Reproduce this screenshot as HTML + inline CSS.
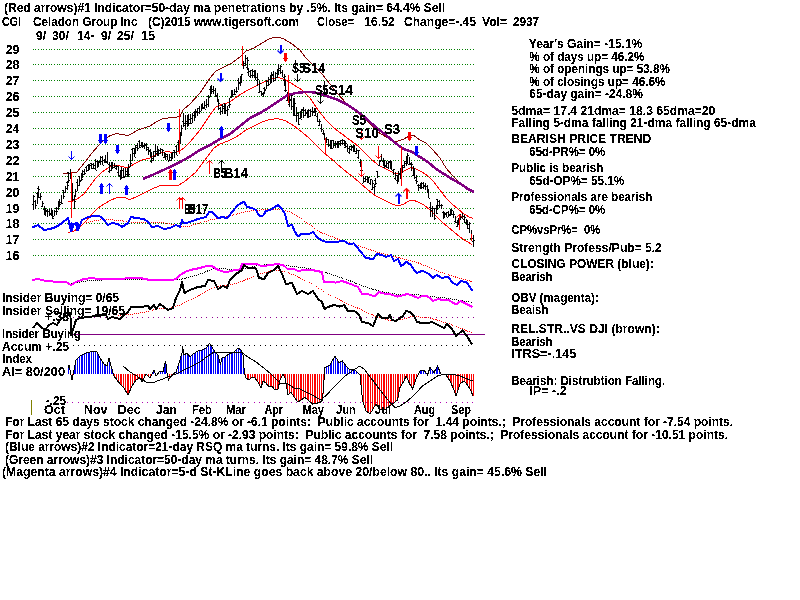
<!DOCTYPE html>
<html><head><meta charset="utf-8"><title>CGI</title>
<style>
html,body{margin:0;padding:0;background:#fff;}
body{width:800px;height:600px;overflow:hidden;font-family:"Liberation Sans",sans-serif;}
svg{display:block}
text{font-family:"Liberation Sans",sans-serif;font-weight:bold;fill:#000;white-space:pre;}
</style></head><body>
<svg width="800" height="600" viewBox="0 0 800 600">
<rect width="800" height="600" fill="#fff"/>
<path d="M33,49.5h1M35,49.5h1M38,49.5h1M41,49.5h1M43,49.5h1M46,49.5h1M49,49.5h1M51,49.5h1M54,49.5h1M57,49.5h1M59,49.5h1M62,49.5h1M65,49.5h1M67,49.5h1M70,49.5h1M73,49.5h1M75,49.5h1M78,49.5h1M81,49.5h1M83,49.5h1M86,49.5h1M89,49.5h1M91,49.5h1M94,49.5h1M97,49.5h1M99,49.5h1M102,49.5h1M105,49.5h1M107,49.5h1M110,49.5h1M113,49.5h1M115,49.5h1M118,49.5h1M121,49.5h1M123,49.5h1M126,49.5h1M129,49.5h1M131,49.5h1M134,49.5h1M137,49.5h1M139,49.5h1M142,49.5h1M145,49.5h1M147,49.5h1M150,49.5h1M153,49.5h1M155,49.5h1M158,49.5h1M161,49.5h1M163,49.5h1M166,49.5h1M169,49.5h1M171,49.5h1M174,49.5h1M177,49.5h1M179,49.5h1M182,49.5h1M185,49.5h1M187,49.5h1M190,49.5h1M193,49.5h1M195,49.5h1M198,49.5h1M201,49.5h1M203,49.5h1M206,49.5h1M209,49.5h1M211,49.5h1M214,49.5h1M217,49.5h1M219,49.5h1M222,49.5h1M225,49.5h1M227,49.5h1M230,49.5h1M233,49.5h1M235,49.5h1M238,49.5h1M241,49.5h1M243,49.5h1M246,49.5h1M249,49.5h1M251,49.5h1M254,49.5h1M257,49.5h1M259,49.5h1M262,49.5h1M265,49.5h1M267,49.5h1M270,49.5h1M273,49.5h1M275,49.5h1M278,49.5h1M281,49.5h1M283,49.5h1M286,49.5h1M289,49.5h1M291,49.5h1M294,49.5h1M297,49.5h1M299,49.5h1M302,49.5h1M305,49.5h1M307,49.5h1M310,49.5h1M313,49.5h1M315,49.5h1M318,49.5h1M321,49.5h1M323,49.5h1M326,49.5h1M329,49.5h1M331,49.5h1M334,49.5h1M337,49.5h1M339,49.5h1M342,49.5h1M345,49.5h1M347,49.5h1M350,49.5h1M353,49.5h1M355,49.5h1M358,49.5h1M361,49.5h1M363,49.5h1M366,49.5h1M369,49.5h1M371,49.5h1M374,49.5h1M377,49.5h1M379,49.5h1M382,49.5h1M385,49.5h1M387,49.5h1M390,49.5h1M393,49.5h1M395,49.5h1M398,49.5h1M401,49.5h1M403,49.5h1M406,49.5h1M409,49.5h1M411,49.5h1M414,49.5h1M417,49.5h1M419,49.5h1M422,49.5h1M425,49.5h1M427,49.5h1M430,49.5h1M433,49.5h1M435,49.5h1M438,49.5h1M441,49.5h1M443,49.5h1M446,49.5h1M449,49.5h1M451,49.5h1M454,49.5h1M457,49.5h1M459,49.5h1M462,49.5h1M465,49.5h1M467,49.5h1M470,49.5h1M473,49.5h1" stroke="#008000" stroke-width="1" fill="none" shape-rendering="crispEdges"/>
<path d="M33,64.5h1M35,64.5h1M38,64.5h1M41,64.5h1M43,64.5h1M46,64.5h1M49,64.5h1M51,64.5h1M54,64.5h1M57,64.5h1M59,64.5h1M62,64.5h1M65,64.5h1M67,64.5h1M70,64.5h1M73,64.5h1M75,64.5h1M78,64.5h1M81,64.5h1M83,64.5h1M86,64.5h1M89,64.5h1M91,64.5h1M94,64.5h1M97,64.5h1M99,64.5h1M102,64.5h1M105,64.5h1M107,64.5h1M110,64.5h1M113,64.5h1M115,64.5h1M118,64.5h1M121,64.5h1M123,64.5h1M126,64.5h1M129,64.5h1M131,64.5h1M134,64.5h1M137,64.5h1M139,64.5h1M142,64.5h1M145,64.5h1M147,64.5h1M150,64.5h1M153,64.5h1M155,64.5h1M158,64.5h1M161,64.5h1M163,64.5h1M166,64.5h1M169,64.5h1M171,64.5h1M174,64.5h1M177,64.5h1M179,64.5h1M182,64.5h1M185,64.5h1M187,64.5h1M190,64.5h1M193,64.5h1M195,64.5h1M198,64.5h1M201,64.5h1M203,64.5h1M206,64.5h1M209,64.5h1M211,64.5h1M214,64.5h1M217,64.5h1M219,64.5h1M222,64.5h1M225,64.5h1M227,64.5h1M230,64.5h1M233,64.5h1M235,64.5h1M238,64.5h1M241,64.5h1M243,64.5h1M246,64.5h1M249,64.5h1M251,64.5h1M254,64.5h1M257,64.5h1M259,64.5h1M262,64.5h1M265,64.5h1M267,64.5h1M270,64.5h1M273,64.5h1M275,64.5h1M278,64.5h1M281,64.5h1M283,64.5h1M286,64.5h1M289,64.5h1M291,64.5h1M294,64.5h1M297,64.5h1M299,64.5h1M302,64.5h1M305,64.5h1M307,64.5h1M310,64.5h1M313,64.5h1M315,64.5h1M318,64.5h1M321,64.5h1M323,64.5h1M326,64.5h1M329,64.5h1M331,64.5h1M334,64.5h1M337,64.5h1M339,64.5h1M342,64.5h1M345,64.5h1M347,64.5h1M350,64.5h1M353,64.5h1M355,64.5h1M358,64.5h1M361,64.5h1M363,64.5h1M366,64.5h1M369,64.5h1M371,64.5h1M374,64.5h1M377,64.5h1M379,64.5h1M382,64.5h1M385,64.5h1M387,64.5h1M390,64.5h1M393,64.5h1M395,64.5h1M398,64.5h1M401,64.5h1M403,64.5h1M406,64.5h1M409,64.5h1M411,64.5h1M414,64.5h1M417,64.5h1M419,64.5h1M422,64.5h1M425,64.5h1M427,64.5h1M430,64.5h1M433,64.5h1M435,64.5h1M438,64.5h1M441,64.5h1M443,64.5h1M446,64.5h1M449,64.5h1M451,64.5h1M454,64.5h1M457,64.5h1M459,64.5h1M462,64.5h1M465,64.5h1M467,64.5h1M470,64.5h1M473,64.5h1" stroke="#008000" stroke-width="1" fill="none" shape-rendering="crispEdges"/>
<path d="M33,80.5h1M35,80.5h1M38,80.5h1M41,80.5h1M43,80.5h1M46,80.5h1M49,80.5h1M51,80.5h1M54,80.5h1M57,80.5h1M59,80.5h1M62,80.5h1M65,80.5h1M67,80.5h1M70,80.5h1M73,80.5h1M75,80.5h1M78,80.5h1M81,80.5h1M83,80.5h1M86,80.5h1M89,80.5h1M91,80.5h1M94,80.5h1M97,80.5h1M99,80.5h1M102,80.5h1M105,80.5h1M107,80.5h1M110,80.5h1M113,80.5h1M115,80.5h1M118,80.5h1M121,80.5h1M123,80.5h1M126,80.5h1M129,80.5h1M131,80.5h1M134,80.5h1M137,80.5h1M139,80.5h1M142,80.5h1M145,80.5h1M147,80.5h1M150,80.5h1M153,80.5h1M155,80.5h1M158,80.5h1M161,80.5h1M163,80.5h1M166,80.5h1M169,80.5h1M171,80.5h1M174,80.5h1M177,80.5h1M179,80.5h1M182,80.5h1M185,80.5h1M187,80.5h1M190,80.5h1M193,80.5h1M195,80.5h1M198,80.5h1M201,80.5h1M203,80.5h1M206,80.5h1M209,80.5h1M211,80.5h1M214,80.5h1M217,80.5h1M219,80.5h1M222,80.5h1M225,80.5h1M227,80.5h1M230,80.5h1M233,80.5h1M235,80.5h1M238,80.5h1M241,80.5h1M243,80.5h1M246,80.5h1M249,80.5h1M251,80.5h1M254,80.5h1M257,80.5h1M259,80.5h1M262,80.5h1M265,80.5h1M267,80.5h1M270,80.5h1M273,80.5h1M275,80.5h1M278,80.5h1M281,80.5h1M283,80.5h1M286,80.5h1M289,80.5h1M291,80.5h1M294,80.5h1M297,80.5h1M299,80.5h1M302,80.5h1M305,80.5h1M307,80.5h1M310,80.5h1M313,80.5h1M315,80.5h1M318,80.5h1M321,80.5h1M323,80.5h1M326,80.5h1M329,80.5h1M331,80.5h1M334,80.5h1M337,80.5h1M339,80.5h1M342,80.5h1M345,80.5h1M347,80.5h1M350,80.5h1M353,80.5h1M355,80.5h1M358,80.5h1M361,80.5h1M363,80.5h1M366,80.5h1M369,80.5h1M371,80.5h1M374,80.5h1M377,80.5h1M379,80.5h1M382,80.5h1M385,80.5h1M387,80.5h1M390,80.5h1M393,80.5h1M395,80.5h1M398,80.5h1M401,80.5h1M403,80.5h1M406,80.5h1M409,80.5h1M411,80.5h1M414,80.5h1M417,80.5h1M419,80.5h1M422,80.5h1M425,80.5h1M427,80.5h1M430,80.5h1M433,80.5h1M435,80.5h1M438,80.5h1M441,80.5h1M443,80.5h1M446,80.5h1M449,80.5h1M451,80.5h1M454,80.5h1M457,80.5h1M459,80.5h1M462,80.5h1M465,80.5h1M467,80.5h1M470,80.5h1M473,80.5h1" stroke="#008000" stroke-width="1" fill="none" shape-rendering="crispEdges"/>
<path d="M33,96.5h1M35,96.5h1M38,96.5h1M41,96.5h1M43,96.5h1M46,96.5h1M49,96.5h1M51,96.5h1M54,96.5h1M57,96.5h1M59,96.5h1M62,96.5h1M65,96.5h1M67,96.5h1M70,96.5h1M73,96.5h1M75,96.5h1M78,96.5h1M81,96.5h1M83,96.5h1M86,96.5h1M89,96.5h1M91,96.5h1M94,96.5h1M97,96.5h1M99,96.5h1M102,96.5h1M105,96.5h1M107,96.5h1M110,96.5h1M113,96.5h1M115,96.5h1M118,96.5h1M121,96.5h1M123,96.5h1M126,96.5h1M129,96.5h1M131,96.5h1M134,96.5h1M137,96.5h1M139,96.5h1M142,96.5h1M145,96.5h1M147,96.5h1M150,96.5h1M153,96.5h1M155,96.5h1M158,96.5h1M161,96.5h1M163,96.5h1M166,96.5h1M169,96.5h1M171,96.5h1M174,96.5h1M177,96.5h1M179,96.5h1M182,96.5h1M185,96.5h1M187,96.5h1M190,96.5h1M193,96.5h1M195,96.5h1M198,96.5h1M201,96.5h1M203,96.5h1M206,96.5h1M209,96.5h1M211,96.5h1M214,96.5h1M217,96.5h1M219,96.5h1M222,96.5h1M225,96.5h1M227,96.5h1M230,96.5h1M233,96.5h1M235,96.5h1M238,96.5h1M241,96.5h1M243,96.5h1M246,96.5h1M249,96.5h1M251,96.5h1M254,96.5h1M257,96.5h1M259,96.5h1M262,96.5h1M265,96.5h1M267,96.5h1M270,96.5h1M273,96.5h1M275,96.5h1M278,96.5h1M281,96.5h1M283,96.5h1M286,96.5h1M289,96.5h1M291,96.5h1M294,96.5h1M297,96.5h1M299,96.5h1M302,96.5h1M305,96.5h1M307,96.5h1M310,96.5h1M313,96.5h1M315,96.5h1M318,96.5h1M321,96.5h1M323,96.5h1M326,96.5h1M329,96.5h1M331,96.5h1M334,96.5h1M337,96.5h1M339,96.5h1M342,96.5h1M345,96.5h1M347,96.5h1M350,96.5h1M353,96.5h1M355,96.5h1M358,96.5h1M361,96.5h1M363,96.5h1M366,96.5h1M369,96.5h1M371,96.5h1M374,96.5h1M377,96.5h1M379,96.5h1M382,96.5h1M385,96.5h1M387,96.5h1M390,96.5h1M393,96.5h1M395,96.5h1M398,96.5h1M401,96.5h1M403,96.5h1M406,96.5h1M409,96.5h1M411,96.5h1M414,96.5h1M417,96.5h1M419,96.5h1M422,96.5h1M425,96.5h1M427,96.5h1M430,96.5h1M433,96.5h1M435,96.5h1M438,96.5h1M441,96.5h1M443,96.5h1M446,96.5h1M449,96.5h1M451,96.5h1M454,96.5h1M457,96.5h1M459,96.5h1M462,96.5h1M465,96.5h1M467,96.5h1M470,96.5h1M473,96.5h1" stroke="#008000" stroke-width="1" fill="none" shape-rendering="crispEdges"/>
<path d="M33,112.5h1M35,112.5h1M38,112.5h1M41,112.5h1M43,112.5h1M46,112.5h1M49,112.5h1M51,112.5h1M54,112.5h1M57,112.5h1M59,112.5h1M62,112.5h1M65,112.5h1M67,112.5h1M70,112.5h1M73,112.5h1M75,112.5h1M78,112.5h1M81,112.5h1M83,112.5h1M86,112.5h1M89,112.5h1M91,112.5h1M94,112.5h1M97,112.5h1M99,112.5h1M102,112.5h1M105,112.5h1M107,112.5h1M110,112.5h1M113,112.5h1M115,112.5h1M118,112.5h1M121,112.5h1M123,112.5h1M126,112.5h1M129,112.5h1M131,112.5h1M134,112.5h1M137,112.5h1M139,112.5h1M142,112.5h1M145,112.5h1M147,112.5h1M150,112.5h1M153,112.5h1M155,112.5h1M158,112.5h1M161,112.5h1M163,112.5h1M166,112.5h1M169,112.5h1M171,112.5h1M174,112.5h1M177,112.5h1M179,112.5h1M182,112.5h1M185,112.5h1M187,112.5h1M190,112.5h1M193,112.5h1M195,112.5h1M198,112.5h1M201,112.5h1M203,112.5h1M206,112.5h1M209,112.5h1M211,112.5h1M214,112.5h1M217,112.5h1M219,112.5h1M222,112.5h1M225,112.5h1M227,112.5h1M230,112.5h1M233,112.5h1M235,112.5h1M238,112.5h1M241,112.5h1M243,112.5h1M246,112.5h1M249,112.5h1M251,112.5h1M254,112.5h1M257,112.5h1M259,112.5h1M262,112.5h1M265,112.5h1M267,112.5h1M270,112.5h1M273,112.5h1M275,112.5h1M278,112.5h1M281,112.5h1M283,112.5h1M286,112.5h1M289,112.5h1M291,112.5h1M294,112.5h1M297,112.5h1M299,112.5h1M302,112.5h1M305,112.5h1M307,112.5h1M310,112.5h1M313,112.5h1M315,112.5h1M318,112.5h1M321,112.5h1M323,112.5h1M326,112.5h1M329,112.5h1M331,112.5h1M334,112.5h1M337,112.5h1M339,112.5h1M342,112.5h1M345,112.5h1M347,112.5h1M350,112.5h1M353,112.5h1M355,112.5h1M358,112.5h1M361,112.5h1M363,112.5h1M366,112.5h1M369,112.5h1M371,112.5h1M374,112.5h1M377,112.5h1M379,112.5h1M382,112.5h1M385,112.5h1M387,112.5h1M390,112.5h1M393,112.5h1M395,112.5h1M398,112.5h1M401,112.5h1M403,112.5h1M406,112.5h1M409,112.5h1M411,112.5h1M414,112.5h1M417,112.5h1M419,112.5h1M422,112.5h1M425,112.5h1M427,112.5h1M430,112.5h1M433,112.5h1M435,112.5h1M438,112.5h1M441,112.5h1M443,112.5h1M446,112.5h1M449,112.5h1M451,112.5h1M454,112.5h1M457,112.5h1M459,112.5h1M462,112.5h1M465,112.5h1M467,112.5h1M470,112.5h1M473,112.5h1" stroke="#008000" stroke-width="1" fill="none" shape-rendering="crispEdges"/>
<path d="M33,128.5h1M35,128.5h1M38,128.5h1M41,128.5h1M43,128.5h1M46,128.5h1M49,128.5h1M51,128.5h1M54,128.5h1M57,128.5h1M59,128.5h1M62,128.5h1M65,128.5h1M67,128.5h1M70,128.5h1M73,128.5h1M75,128.5h1M78,128.5h1M81,128.5h1M83,128.5h1M86,128.5h1M89,128.5h1M91,128.5h1M94,128.5h1M97,128.5h1M99,128.5h1M102,128.5h1M105,128.5h1M107,128.5h1M110,128.5h1M113,128.5h1M115,128.5h1M118,128.5h1M121,128.5h1M123,128.5h1M126,128.5h1M129,128.5h1M131,128.5h1M134,128.5h1M137,128.5h1M139,128.5h1M142,128.5h1M145,128.5h1M147,128.5h1M150,128.5h1M153,128.5h1M155,128.5h1M158,128.5h1M161,128.5h1M163,128.5h1M166,128.5h1M169,128.5h1M171,128.5h1M174,128.5h1M177,128.5h1M179,128.5h1M182,128.5h1M185,128.5h1M187,128.5h1M190,128.5h1M193,128.5h1M195,128.5h1M198,128.5h1M201,128.5h1M203,128.5h1M206,128.5h1M209,128.5h1M211,128.5h1M214,128.5h1M217,128.5h1M219,128.5h1M222,128.5h1M225,128.5h1M227,128.5h1M230,128.5h1M233,128.5h1M235,128.5h1M238,128.5h1M241,128.5h1M243,128.5h1M246,128.5h1M249,128.5h1M251,128.5h1M254,128.5h1M257,128.5h1M259,128.5h1M262,128.5h1M265,128.5h1M267,128.5h1M270,128.5h1M273,128.5h1M275,128.5h1M278,128.5h1M281,128.5h1M283,128.5h1M286,128.5h1M289,128.5h1M291,128.5h1M294,128.5h1M297,128.5h1M299,128.5h1M302,128.5h1M305,128.5h1M307,128.5h1M310,128.5h1M313,128.5h1M315,128.5h1M318,128.5h1M321,128.5h1M323,128.5h1M326,128.5h1M329,128.5h1M331,128.5h1M334,128.5h1M337,128.5h1M339,128.5h1M342,128.5h1M345,128.5h1M347,128.5h1M350,128.5h1M353,128.5h1M355,128.5h1M358,128.5h1M361,128.5h1M363,128.5h1M366,128.5h1M369,128.5h1M371,128.5h1M374,128.5h1M377,128.5h1M379,128.5h1M382,128.5h1M385,128.5h1M387,128.5h1M390,128.5h1M393,128.5h1M395,128.5h1M398,128.5h1M401,128.5h1M403,128.5h1M406,128.5h1M409,128.5h1M411,128.5h1M414,128.5h1M417,128.5h1M419,128.5h1M422,128.5h1M425,128.5h1M427,128.5h1M430,128.5h1M433,128.5h1M435,128.5h1M438,128.5h1M441,128.5h1M443,128.5h1M446,128.5h1M449,128.5h1M451,128.5h1M454,128.5h1M457,128.5h1M459,128.5h1M462,128.5h1M465,128.5h1M467,128.5h1M470,128.5h1M473,128.5h1" stroke="#008000" stroke-width="1" fill="none" shape-rendering="crispEdges"/>
<path d="M33,144.5h1M35,144.5h1M38,144.5h1M41,144.5h1M43,144.5h1M46,144.5h1M49,144.5h1M51,144.5h1M54,144.5h1M57,144.5h1M59,144.5h1M62,144.5h1M65,144.5h1M67,144.5h1M70,144.5h1M73,144.5h1M75,144.5h1M78,144.5h1M81,144.5h1M83,144.5h1M86,144.5h1M89,144.5h1M91,144.5h1M94,144.5h1M97,144.5h1M99,144.5h1M102,144.5h1M105,144.5h1M107,144.5h1M110,144.5h1M113,144.5h1M115,144.5h1M118,144.5h1M121,144.5h1M123,144.5h1M126,144.5h1M129,144.5h1M131,144.5h1M134,144.5h1M137,144.5h1M139,144.5h1M142,144.5h1M145,144.5h1M147,144.5h1M150,144.5h1M153,144.5h1M155,144.5h1M158,144.5h1M161,144.5h1M163,144.5h1M166,144.5h1M169,144.5h1M171,144.5h1M174,144.5h1M177,144.5h1M179,144.5h1M182,144.5h1M185,144.5h1M187,144.5h1M190,144.5h1M193,144.5h1M195,144.5h1M198,144.5h1M201,144.5h1M203,144.5h1M206,144.5h1M209,144.5h1M211,144.5h1M214,144.5h1M217,144.5h1M219,144.5h1M222,144.5h1M225,144.5h1M227,144.5h1M230,144.5h1M233,144.5h1M235,144.5h1M238,144.5h1M241,144.5h1M243,144.5h1M246,144.5h1M249,144.5h1M251,144.5h1M254,144.5h1M257,144.5h1M259,144.5h1M262,144.5h1M265,144.5h1M267,144.5h1M270,144.5h1M273,144.5h1M275,144.5h1M278,144.5h1M281,144.5h1M283,144.5h1M286,144.5h1M289,144.5h1M291,144.5h1M294,144.5h1M297,144.5h1M299,144.5h1M302,144.5h1M305,144.5h1M307,144.5h1M310,144.5h1M313,144.5h1M315,144.5h1M318,144.5h1M321,144.5h1M323,144.5h1M326,144.5h1M329,144.5h1M331,144.5h1M334,144.5h1M337,144.5h1M339,144.5h1M342,144.5h1M345,144.5h1M347,144.5h1M350,144.5h1M353,144.5h1M355,144.5h1M358,144.5h1M361,144.5h1M363,144.5h1M366,144.5h1M369,144.5h1M371,144.5h1M374,144.5h1M377,144.5h1M379,144.5h1M382,144.5h1M385,144.5h1M387,144.5h1M390,144.5h1M393,144.5h1M395,144.5h1M398,144.5h1M401,144.5h1M403,144.5h1M406,144.5h1M409,144.5h1M411,144.5h1M414,144.5h1M417,144.5h1M419,144.5h1M422,144.5h1M425,144.5h1M427,144.5h1M430,144.5h1M433,144.5h1M435,144.5h1M438,144.5h1M441,144.5h1M443,144.5h1M446,144.5h1M449,144.5h1M451,144.5h1M454,144.5h1M457,144.5h1M459,144.5h1M462,144.5h1M465,144.5h1M467,144.5h1M470,144.5h1M473,144.5h1" stroke="#008000" stroke-width="1" fill="none" shape-rendering="crispEdges"/>
<path d="M33,160.5h1M35,160.5h1M38,160.5h1M41,160.5h1M43,160.5h1M46,160.5h1M49,160.5h1M51,160.5h1M54,160.5h1M57,160.5h1M59,160.5h1M62,160.5h1M65,160.5h1M67,160.5h1M70,160.5h1M73,160.5h1M75,160.5h1M78,160.5h1M81,160.5h1M83,160.5h1M86,160.5h1M89,160.5h1M91,160.5h1M94,160.5h1M97,160.5h1M99,160.5h1M102,160.5h1M105,160.5h1M107,160.5h1M110,160.5h1M113,160.5h1M115,160.5h1M118,160.5h1M121,160.5h1M123,160.5h1M126,160.5h1M129,160.5h1M131,160.5h1M134,160.5h1M137,160.5h1M139,160.5h1M142,160.5h1M145,160.5h1M147,160.5h1M150,160.5h1M153,160.5h1M155,160.5h1M158,160.5h1M161,160.5h1M163,160.5h1M166,160.5h1M169,160.5h1M171,160.5h1M174,160.5h1M177,160.5h1M179,160.5h1M182,160.5h1M185,160.5h1M187,160.5h1M190,160.5h1M193,160.5h1M195,160.5h1M198,160.5h1M201,160.5h1M203,160.5h1M206,160.5h1M209,160.5h1M211,160.5h1M214,160.5h1M217,160.5h1M219,160.5h1M222,160.5h1M225,160.5h1M227,160.5h1M230,160.5h1M233,160.5h1M235,160.5h1M238,160.5h1M241,160.5h1M243,160.5h1M246,160.5h1M249,160.5h1M251,160.5h1M254,160.5h1M257,160.5h1M259,160.5h1M262,160.5h1M265,160.5h1M267,160.5h1M270,160.5h1M273,160.5h1M275,160.5h1M278,160.5h1M281,160.5h1M283,160.5h1M286,160.5h1M289,160.5h1M291,160.5h1M294,160.5h1M297,160.5h1M299,160.5h1M302,160.5h1M305,160.5h1M307,160.5h1M310,160.5h1M313,160.5h1M315,160.5h1M318,160.5h1M321,160.5h1M323,160.5h1M326,160.5h1M329,160.5h1M331,160.5h1M334,160.5h1M337,160.5h1M339,160.5h1M342,160.5h1M345,160.5h1M347,160.5h1M350,160.5h1M353,160.5h1M355,160.5h1M358,160.5h1M361,160.5h1M363,160.5h1M366,160.5h1M369,160.5h1M371,160.5h1M374,160.5h1M377,160.5h1M379,160.5h1M382,160.5h1M385,160.5h1M387,160.5h1M390,160.5h1M393,160.5h1M395,160.5h1M398,160.5h1M401,160.5h1M403,160.5h1M406,160.5h1M409,160.5h1M411,160.5h1M414,160.5h1M417,160.5h1M419,160.5h1M422,160.5h1M425,160.5h1M427,160.5h1M430,160.5h1M433,160.5h1M435,160.5h1M438,160.5h1M441,160.5h1M443,160.5h1M446,160.5h1M449,160.5h1M451,160.5h1M454,160.5h1M457,160.5h1M459,160.5h1M462,160.5h1M465,160.5h1M467,160.5h1M470,160.5h1M473,160.5h1" stroke="#008000" stroke-width="1" fill="none" shape-rendering="crispEdges"/>
<path d="M33,176.5h1M35,176.5h1M38,176.5h1M41,176.5h1M43,176.5h1M46,176.5h1M49,176.5h1M51,176.5h1M54,176.5h1M57,176.5h1M59,176.5h1M62,176.5h1M65,176.5h1M67,176.5h1M70,176.5h1M73,176.5h1M75,176.5h1M78,176.5h1M81,176.5h1M83,176.5h1M86,176.5h1M89,176.5h1M91,176.5h1M94,176.5h1M97,176.5h1M99,176.5h1M102,176.5h1M105,176.5h1M107,176.5h1M110,176.5h1M113,176.5h1M115,176.5h1M118,176.5h1M121,176.5h1M123,176.5h1M126,176.5h1M129,176.5h1M131,176.5h1M134,176.5h1M137,176.5h1M139,176.5h1M142,176.5h1M145,176.5h1M147,176.5h1M150,176.5h1M153,176.5h1M155,176.5h1M158,176.5h1M161,176.5h1M163,176.5h1M166,176.5h1M169,176.5h1M171,176.5h1M174,176.5h1M177,176.5h1M179,176.5h1M182,176.5h1M185,176.5h1M187,176.5h1M190,176.5h1M193,176.5h1M195,176.5h1M198,176.5h1M201,176.5h1M203,176.5h1M206,176.5h1M209,176.5h1M211,176.5h1M214,176.5h1M217,176.5h1M219,176.5h1M222,176.5h1M225,176.5h1M227,176.5h1M230,176.5h1M233,176.5h1M235,176.5h1M238,176.5h1M241,176.5h1M243,176.5h1M246,176.5h1M249,176.5h1M251,176.5h1M254,176.5h1M257,176.5h1M259,176.5h1M262,176.5h1M265,176.5h1M267,176.5h1M270,176.5h1M273,176.5h1M275,176.5h1M278,176.5h1M281,176.5h1M283,176.5h1M286,176.5h1M289,176.5h1M291,176.5h1M294,176.5h1M297,176.5h1M299,176.5h1M302,176.5h1M305,176.5h1M307,176.5h1M310,176.5h1M313,176.5h1M315,176.5h1M318,176.5h1M321,176.5h1M323,176.5h1M326,176.5h1M329,176.5h1M331,176.5h1M334,176.5h1M337,176.5h1M339,176.5h1M342,176.5h1M345,176.5h1M347,176.5h1M350,176.5h1M353,176.5h1M355,176.5h1M358,176.5h1M361,176.5h1M363,176.5h1M366,176.5h1M369,176.5h1M371,176.5h1M374,176.5h1M377,176.5h1M379,176.5h1M382,176.5h1M385,176.5h1M387,176.5h1M390,176.5h1M393,176.5h1M395,176.5h1M398,176.5h1M401,176.5h1M403,176.5h1M406,176.5h1M409,176.5h1M411,176.5h1M414,176.5h1M417,176.5h1M419,176.5h1M422,176.5h1M425,176.5h1M427,176.5h1M430,176.5h1M433,176.5h1M435,176.5h1M438,176.5h1M441,176.5h1M443,176.5h1M446,176.5h1M449,176.5h1M451,176.5h1M454,176.5h1M457,176.5h1M459,176.5h1M462,176.5h1M465,176.5h1M467,176.5h1M470,176.5h1M473,176.5h1" stroke="#008000" stroke-width="1" fill="none" shape-rendering="crispEdges"/>
<path d="M33,192.5h1M35,192.5h1M38,192.5h1M41,192.5h1M43,192.5h1M46,192.5h1M49,192.5h1M51,192.5h1M54,192.5h1M57,192.5h1M59,192.5h1M62,192.5h1M65,192.5h1M67,192.5h1M70,192.5h1M73,192.5h1M75,192.5h1M78,192.5h1M81,192.5h1M83,192.5h1M86,192.5h1M89,192.5h1M91,192.5h1M94,192.5h1M97,192.5h1M99,192.5h1M102,192.5h1M105,192.5h1M107,192.5h1M110,192.5h1M113,192.5h1M115,192.5h1M118,192.5h1M121,192.5h1M123,192.5h1M126,192.5h1M129,192.5h1M131,192.5h1M134,192.5h1M137,192.5h1M139,192.5h1M142,192.5h1M145,192.5h1M147,192.5h1M150,192.5h1M153,192.5h1M155,192.5h1M158,192.5h1M161,192.5h1M163,192.5h1M166,192.5h1M169,192.5h1M171,192.5h1M174,192.5h1M177,192.5h1M179,192.5h1M182,192.5h1M185,192.5h1M187,192.5h1M190,192.5h1M193,192.5h1M195,192.5h1M198,192.5h1M201,192.5h1M203,192.5h1M206,192.5h1M209,192.5h1M211,192.5h1M214,192.5h1M217,192.5h1M219,192.5h1M222,192.5h1M225,192.5h1M227,192.5h1M230,192.5h1M233,192.5h1M235,192.5h1M238,192.5h1M241,192.5h1M243,192.5h1M246,192.5h1M249,192.5h1M251,192.5h1M254,192.5h1M257,192.5h1M259,192.5h1M262,192.5h1M265,192.5h1M267,192.5h1M270,192.5h1M273,192.5h1M275,192.5h1M278,192.5h1M281,192.5h1M283,192.5h1M286,192.5h1M289,192.5h1M291,192.5h1M294,192.5h1M297,192.5h1M299,192.5h1M302,192.5h1M305,192.5h1M307,192.5h1M310,192.5h1M313,192.5h1M315,192.5h1M318,192.5h1M321,192.5h1M323,192.5h1M326,192.5h1M329,192.5h1M331,192.5h1M334,192.5h1M337,192.5h1M339,192.5h1M342,192.5h1M345,192.5h1M347,192.5h1M350,192.5h1M353,192.5h1M355,192.5h1M358,192.5h1M361,192.5h1M363,192.5h1M366,192.5h1M369,192.5h1M371,192.5h1M374,192.5h1M377,192.5h1M379,192.5h1M382,192.5h1M385,192.5h1M387,192.5h1M390,192.5h1M393,192.5h1M395,192.5h1M398,192.5h1M401,192.5h1M403,192.5h1M406,192.5h1M409,192.5h1M411,192.5h1M414,192.5h1M417,192.5h1M419,192.5h1M422,192.5h1M425,192.5h1M427,192.5h1M430,192.5h1M433,192.5h1M435,192.5h1M438,192.5h1M441,192.5h1M443,192.5h1M446,192.5h1M449,192.5h1M451,192.5h1M454,192.5h1M457,192.5h1M459,192.5h1M462,192.5h1M465,192.5h1M467,192.5h1M470,192.5h1M473,192.5h1" stroke="#008000" stroke-width="1" fill="none" shape-rendering="crispEdges"/>
<path d="M33,208.5h1M35,208.5h1M38,208.5h1M41,208.5h1M43,208.5h1M46,208.5h1M49,208.5h1M51,208.5h1M54,208.5h1M57,208.5h1M59,208.5h1M62,208.5h1M65,208.5h1M67,208.5h1M70,208.5h1M73,208.5h1M75,208.5h1M78,208.5h1M81,208.5h1M83,208.5h1M86,208.5h1M89,208.5h1M91,208.5h1M94,208.5h1M97,208.5h1M99,208.5h1M102,208.5h1M105,208.5h1M107,208.5h1M110,208.5h1M113,208.5h1M115,208.5h1M118,208.5h1M121,208.5h1M123,208.5h1M126,208.5h1M129,208.5h1M131,208.5h1M134,208.5h1M137,208.5h1M139,208.5h1M142,208.5h1M145,208.5h1M147,208.5h1M150,208.5h1M153,208.5h1M155,208.5h1M158,208.5h1M161,208.5h1M163,208.5h1M166,208.5h1M169,208.5h1M171,208.5h1M174,208.5h1M177,208.5h1M179,208.5h1M182,208.5h1M185,208.5h1M187,208.5h1M190,208.5h1M193,208.5h1M195,208.5h1M198,208.5h1M201,208.5h1M203,208.5h1M206,208.5h1M209,208.5h1M211,208.5h1M214,208.5h1M217,208.5h1M219,208.5h1M222,208.5h1M225,208.5h1M227,208.5h1M230,208.5h1M233,208.5h1M235,208.5h1M238,208.5h1M241,208.5h1M243,208.5h1M246,208.5h1M249,208.5h1M251,208.5h1M254,208.5h1M257,208.5h1M259,208.5h1M262,208.5h1M265,208.5h1M267,208.5h1M270,208.5h1M273,208.5h1M275,208.5h1M278,208.5h1M281,208.5h1M283,208.5h1M286,208.5h1M289,208.5h1M291,208.5h1M294,208.5h1M297,208.5h1M299,208.5h1M302,208.5h1M305,208.5h1M307,208.5h1M310,208.5h1M313,208.5h1M315,208.5h1M318,208.5h1M321,208.5h1M323,208.5h1M326,208.5h1M329,208.5h1M331,208.5h1M334,208.5h1M337,208.5h1M339,208.5h1M342,208.5h1M345,208.5h1M347,208.5h1M350,208.5h1M353,208.5h1M355,208.5h1M358,208.5h1M361,208.5h1M363,208.5h1M366,208.5h1M369,208.5h1M371,208.5h1M374,208.5h1M377,208.5h1M379,208.5h1M382,208.5h1M385,208.5h1M387,208.5h1M390,208.5h1M393,208.5h1M395,208.5h1M398,208.5h1M401,208.5h1M403,208.5h1M406,208.5h1M409,208.5h1M411,208.5h1M414,208.5h1M417,208.5h1M419,208.5h1M422,208.5h1M425,208.5h1M427,208.5h1M430,208.5h1M433,208.5h1M435,208.5h1M438,208.5h1M441,208.5h1M443,208.5h1M446,208.5h1M449,208.5h1M451,208.5h1M454,208.5h1M457,208.5h1M459,208.5h1M462,208.5h1M465,208.5h1M467,208.5h1M470,208.5h1M473,208.5h1" stroke="#008000" stroke-width="1" fill="none" shape-rendering="crispEdges"/>
<path d="M33,223.5h1M35,223.5h1M38,223.5h1M41,223.5h1M43,223.5h1M46,223.5h1M49,223.5h1M51,223.5h1M54,223.5h1M57,223.5h1M59,223.5h1M62,223.5h1M65,223.5h1M67,223.5h1M70,223.5h1M73,223.5h1M75,223.5h1M78,223.5h1M81,223.5h1M83,223.5h1M86,223.5h1M89,223.5h1M91,223.5h1M94,223.5h1M97,223.5h1M99,223.5h1M102,223.5h1M105,223.5h1M107,223.5h1M110,223.5h1M113,223.5h1M115,223.5h1M118,223.5h1M121,223.5h1M123,223.5h1M126,223.5h1M129,223.5h1M131,223.5h1M134,223.5h1M137,223.5h1M139,223.5h1M142,223.5h1M145,223.5h1M147,223.5h1M150,223.5h1M153,223.5h1M155,223.5h1M158,223.5h1M161,223.5h1M163,223.5h1M166,223.5h1M169,223.5h1M171,223.5h1M174,223.5h1M177,223.5h1M179,223.5h1M182,223.5h1M185,223.5h1M187,223.5h1M190,223.5h1M193,223.5h1M195,223.5h1M198,223.5h1M201,223.5h1M203,223.5h1M206,223.5h1M209,223.5h1M211,223.5h1M214,223.5h1M217,223.5h1M219,223.5h1M222,223.5h1M225,223.5h1M227,223.5h1M230,223.5h1M233,223.5h1M235,223.5h1M238,223.5h1M241,223.5h1M243,223.5h1M246,223.5h1M249,223.5h1M251,223.5h1M254,223.5h1M257,223.5h1M259,223.5h1M262,223.5h1M265,223.5h1M267,223.5h1M270,223.5h1M273,223.5h1M275,223.5h1M278,223.5h1M281,223.5h1M283,223.5h1M286,223.5h1M289,223.5h1M291,223.5h1M294,223.5h1M297,223.5h1M299,223.5h1M302,223.5h1M305,223.5h1M307,223.5h1M310,223.5h1M313,223.5h1M315,223.5h1M318,223.5h1M321,223.5h1M323,223.5h1M326,223.5h1M329,223.5h1M331,223.5h1M334,223.5h1M337,223.5h1M339,223.5h1M342,223.5h1M345,223.5h1M347,223.5h1M350,223.5h1M353,223.5h1M355,223.5h1M358,223.5h1M361,223.5h1M363,223.5h1M366,223.5h1M369,223.5h1M371,223.5h1M374,223.5h1M377,223.5h1M379,223.5h1M382,223.5h1M385,223.5h1M387,223.5h1M390,223.5h1M393,223.5h1M395,223.5h1M398,223.5h1M401,223.5h1M403,223.5h1M406,223.5h1M409,223.5h1M411,223.5h1M414,223.5h1M417,223.5h1M419,223.5h1M422,223.5h1M425,223.5h1M427,223.5h1M430,223.5h1M433,223.5h1M435,223.5h1M438,223.5h1M441,223.5h1M443,223.5h1M446,223.5h1M449,223.5h1M451,223.5h1M454,223.5h1M457,223.5h1M459,223.5h1M462,223.5h1M465,223.5h1M467,223.5h1M470,223.5h1M473,223.5h1" stroke="#008000" stroke-width="1" fill="none" shape-rendering="crispEdges"/>
<path d="M33,239.5h1M35,239.5h1M38,239.5h1M41,239.5h1M43,239.5h1M46,239.5h1M49,239.5h1M51,239.5h1M54,239.5h1M57,239.5h1M59,239.5h1M62,239.5h1M65,239.5h1M67,239.5h1M70,239.5h1M73,239.5h1M75,239.5h1M78,239.5h1M81,239.5h1M83,239.5h1M86,239.5h1M89,239.5h1M91,239.5h1M94,239.5h1M97,239.5h1M99,239.5h1M102,239.5h1M105,239.5h1M107,239.5h1M110,239.5h1M113,239.5h1M115,239.5h1M118,239.5h1M121,239.5h1M123,239.5h1M126,239.5h1M129,239.5h1M131,239.5h1M134,239.5h1M137,239.5h1M139,239.5h1M142,239.5h1M145,239.5h1M147,239.5h1M150,239.5h1M153,239.5h1M155,239.5h1M158,239.5h1M161,239.5h1M163,239.5h1M166,239.5h1M169,239.5h1M171,239.5h1M174,239.5h1M177,239.5h1M179,239.5h1M182,239.5h1M185,239.5h1M187,239.5h1M190,239.5h1M193,239.5h1M195,239.5h1M198,239.5h1M201,239.5h1M203,239.5h1M206,239.5h1M209,239.5h1M211,239.5h1M214,239.5h1M217,239.5h1M219,239.5h1M222,239.5h1M225,239.5h1M227,239.5h1M230,239.5h1M233,239.5h1M235,239.5h1M238,239.5h1M241,239.5h1M243,239.5h1M246,239.5h1M249,239.5h1M251,239.5h1M254,239.5h1M257,239.5h1M259,239.5h1M262,239.5h1M265,239.5h1M267,239.5h1M270,239.5h1M273,239.5h1M275,239.5h1M278,239.5h1M281,239.5h1M283,239.5h1M286,239.5h1M289,239.5h1M291,239.5h1M294,239.5h1M297,239.5h1M299,239.5h1M302,239.5h1M305,239.5h1M307,239.5h1M310,239.5h1M313,239.5h1M315,239.5h1M318,239.5h1M321,239.5h1M323,239.5h1M326,239.5h1M329,239.5h1M331,239.5h1M334,239.5h1M337,239.5h1M339,239.5h1M342,239.5h1M345,239.5h1M347,239.5h1M350,239.5h1M353,239.5h1M355,239.5h1M358,239.5h1M361,239.5h1M363,239.5h1M366,239.5h1M369,239.5h1M371,239.5h1M374,239.5h1M377,239.5h1M379,239.5h1M382,239.5h1M385,239.5h1M387,239.5h1M390,239.5h1M393,239.5h1M395,239.5h1M398,239.5h1M401,239.5h1M403,239.5h1M406,239.5h1M409,239.5h1M411,239.5h1M414,239.5h1M417,239.5h1M419,239.5h1M422,239.5h1M425,239.5h1M427,239.5h1M430,239.5h1M433,239.5h1M435,239.5h1M438,239.5h1M441,239.5h1M443,239.5h1M446,239.5h1M449,239.5h1M451,239.5h1M454,239.5h1M457,239.5h1M459,239.5h1M462,239.5h1M465,239.5h1M467,239.5h1M470,239.5h1M473,239.5h1" stroke="#008000" stroke-width="1" fill="none" shape-rendering="crispEdges"/>
<path d="M33,255.5h1M35,255.5h1M38,255.5h1M41,255.5h1M43,255.5h1M46,255.5h1M49,255.5h1M51,255.5h1M54,255.5h1M57,255.5h1M59,255.5h1M62,255.5h1M65,255.5h1M67,255.5h1M70,255.5h1M73,255.5h1M75,255.5h1M78,255.5h1M81,255.5h1M83,255.5h1M86,255.5h1M89,255.5h1M91,255.5h1M94,255.5h1M97,255.5h1M99,255.5h1M102,255.5h1M105,255.5h1M107,255.5h1M110,255.5h1M113,255.5h1M115,255.5h1M118,255.5h1M121,255.5h1M123,255.5h1M126,255.5h1M129,255.5h1M131,255.5h1M134,255.5h1M137,255.5h1M139,255.5h1M142,255.5h1M145,255.5h1M147,255.5h1M150,255.5h1M153,255.5h1M155,255.5h1M158,255.5h1M161,255.5h1M163,255.5h1M166,255.5h1M169,255.5h1M171,255.5h1M174,255.5h1M177,255.5h1M179,255.5h1M182,255.5h1M185,255.5h1M187,255.5h1M190,255.5h1M193,255.5h1M195,255.5h1M198,255.5h1M201,255.5h1M203,255.5h1M206,255.5h1M209,255.5h1M211,255.5h1M214,255.5h1M217,255.5h1M219,255.5h1M222,255.5h1M225,255.5h1M227,255.5h1M230,255.5h1M233,255.5h1M235,255.5h1M238,255.5h1M241,255.5h1M243,255.5h1M246,255.5h1M249,255.5h1M251,255.5h1M254,255.5h1M257,255.5h1M259,255.5h1M262,255.5h1M265,255.5h1M267,255.5h1M270,255.5h1M273,255.5h1M275,255.5h1M278,255.5h1M281,255.5h1M283,255.5h1M286,255.5h1M289,255.5h1M291,255.5h1M294,255.5h1M297,255.5h1M299,255.5h1M302,255.5h1M305,255.5h1M307,255.5h1M310,255.5h1M313,255.5h1M315,255.5h1M318,255.5h1M321,255.5h1M323,255.5h1M326,255.5h1M329,255.5h1M331,255.5h1M334,255.5h1M337,255.5h1M339,255.5h1M342,255.5h1M345,255.5h1M347,255.5h1M350,255.5h1M353,255.5h1M355,255.5h1M358,255.5h1M361,255.5h1M363,255.5h1M366,255.5h1M369,255.5h1M371,255.5h1M374,255.5h1M377,255.5h1M379,255.5h1M382,255.5h1M385,255.5h1M387,255.5h1M390,255.5h1M393,255.5h1M395,255.5h1M398,255.5h1M401,255.5h1M403,255.5h1M406,255.5h1M409,255.5h1M411,255.5h1M414,255.5h1M417,255.5h1M419,255.5h1M422,255.5h1M425,255.5h1M427,255.5h1M430,255.5h1M433,255.5h1M435,255.5h1M438,255.5h1M441,255.5h1M443,255.5h1M446,255.5h1M449,255.5h1M451,255.5h1M454,255.5h1M457,255.5h1M459,255.5h1M462,255.5h1M465,255.5h1M467,255.5h1M470,255.5h1M473,255.5h1" stroke="#008000" stroke-width="1" fill="none" shape-rendering="crispEdges"/>
<path d="M73,317.5h1M78,317.5h1M84,317.5h1M89,317.5h1M94,317.5h1M100,317.5h1M105,317.5h1M110,317.5h1M116,317.5h1M121,317.5h1M126,317.5h1M132,317.5h1M137,317.5h1M142,317.5h1M148,317.5h1M153,317.5h1M158,317.5h1M164,317.5h1M169,317.5h1M174,317.5h1M180,317.5h1M185,317.5h1M190,317.5h1M196,317.5h1M201,317.5h1M206,317.5h1M212,317.5h1M217,317.5h1M222,317.5h1M228,317.5h1M233,317.5h1M238,317.5h1M244,317.5h1M249,317.5h1M254,317.5h1M260,317.5h1M265,317.5h1M270,317.5h1M276,317.5h1M281,317.5h1M286,317.5h1M292,317.5h1M297,317.5h1M302,317.5h1M308,317.5h1M313,317.5h1M318,317.5h1M324,317.5h1M329,317.5h1M334,317.5h1M340,317.5h1M345,317.5h1M350,317.5h1M356,317.5h1M361,317.5h1M366,317.5h1M372,317.5h1M377,317.5h1M382,317.5h1M388,317.5h1M393,317.5h1M398,317.5h1M404,317.5h1M409,317.5h1M414,317.5h1M420,317.5h1M425,317.5h1M430,317.5h1M436,317.5h1M441,317.5h1M446,317.5h1M452,317.5h1M457,317.5h1M462,317.5h1M468,317.5h1M473,317.5h1" stroke="#900090" stroke-width="1" fill="none" shape-rendering="crispEdges"/>
<path d="M73,345.5h1M78,345.5h1M84,345.5h1M89,345.5h1M94,345.5h1M100,345.5h1M105,345.5h1M110,345.5h1M116,345.5h1M121,345.5h1M126,345.5h1M132,345.5h1M137,345.5h1M142,345.5h1M148,345.5h1M153,345.5h1M158,345.5h1M164,345.5h1M169,345.5h1M174,345.5h1M180,345.5h1M185,345.5h1M190,345.5h1M196,345.5h1M201,345.5h1M206,345.5h1M212,345.5h1M217,345.5h1M222,345.5h1M228,345.5h1M233,345.5h1M238,345.5h1M244,345.5h1M249,345.5h1M254,345.5h1M260,345.5h1M265,345.5h1M270,345.5h1M276,345.5h1M281,345.5h1M286,345.5h1M292,345.5h1M297,345.5h1M302,345.5h1M308,345.5h1M313,345.5h1M318,345.5h1M324,345.5h1M329,345.5h1M334,345.5h1M340,345.5h1M345,345.5h1M350,345.5h1M356,345.5h1M361,345.5h1M366,345.5h1M372,345.5h1M377,345.5h1M382,345.5h1M388,345.5h1M393,345.5h1M398,345.5h1M404,345.5h1M409,345.5h1M414,345.5h1M420,345.5h1M425,345.5h1M430,345.5h1M436,345.5h1M441,345.5h1M446,345.5h1M452,345.5h1M457,345.5h1M462,345.5h1M468,345.5h1" stroke="#000" stroke-width="1" fill="none" shape-rendering="crispEdges"/>
<path d="M67,402.5h1M72,402.5h1M78,402.5h1M83,402.5h1M88,402.5h1M94,402.5h1M99,402.5h1M104,402.5h1M110,402.5h1M115,402.5h1M120,402.5h1M126,402.5h1M131,402.5h1M136,402.5h1M142,402.5h1M147,402.5h1M152,402.5h1M158,402.5h1M163,402.5h1M168,402.5h1M174,402.5h1M179,402.5h1M184,402.5h1M190,402.5h1M195,402.5h1M200,402.5h1M206,402.5h1M211,402.5h1M216,402.5h1M222,402.5h1M227,402.5h1M232,402.5h1M238,402.5h1M243,402.5h1M248,402.5h1M254,402.5h1M259,402.5h1M264,402.5h1M270,402.5h1M275,402.5h1M280,402.5h1M286,402.5h1M291,402.5h1M296,402.5h1M302,402.5h1M307,402.5h1M312,402.5h1M318,402.5h1M323,402.5h1M328,402.5h1M334,402.5h1M339,402.5h1M344,402.5h1M350,402.5h1M355,402.5h1M360,402.5h1M366,402.5h1M371,402.5h1M376,402.5h1M382,402.5h1M387,402.5h1M392,402.5h1M398,402.5h1M403,402.5h1M408,402.5h1M414,402.5h1M419,402.5h1M424,402.5h1M430,402.5h1M435,402.5h1M440,402.5h1M446,402.5h1M451,402.5h1M456,402.5h1M462,402.5h1M467,402.5h1M472,402.5h1" stroke="#b000b0" stroke-width="1" fill="none" shape-rendering="crispEdges"/>
<line x1="73" y1="334.5" x2="485" y2="334.5" stroke="#800080" stroke-width="1" shape-rendering="crispEdges"/>
<line x1="31.5" y1="400" x2="31.5" y2="415" stroke="#808000" stroke-width="1" shape-rendering="crispEdges"/>
<polyline points="63.0,173.6 70.0,173.0 77.0,172.0 85.0,162.0 92.0,153.0 99.0,145.0 105.0,139.0 110.0,135.6 116.0,133.6 122.0,134.5 128.0,135.6 133.0,133.0 138.0,130.0 144.0,128.0 150.0,126.0 156.0,122.0 162.0,119.0 168.0,118.0 174.0,117.6 180.0,116.5 183.0,110.0 190.0,104.0 200.0,93.0 210.0,78.0 216.0,71.0 224.0,67.0 232.0,63.0 240.0,57.0 246.0,51.0 254.0,48.0 262.0,43.0 270.0,38.4 278.0,37.0 284.0,39.0 292.0,44.0 300.0,50.0 306.0,58.0 314.0,66.0 322.0,74.0 330.0,84.0 338.0,94.0 346.0,103.0 354.0,110.0 362.0,116.0 370.0,124.0 378.0,132.0 386.0,137.0 394.0,141.0 398.0,141.0 404.0,139.0 410.0,135.0 414.0,135.6 420.0,140.0 426.0,143.0 432.0,149.0 440.0,158.0 446.0,168.0 452.0,175.0 458.0,181.0 464.0,186.0 470.0,190.0 473.0,191.6" fill="none" stroke="#800000" stroke-width="1"  shape-rendering="crispEdges"/>
<polyline points="68.0,202.0 73.0,201.0 77.0,199.0 84.0,194.0 90.0,186.0 96.0,178.0 102.0,172.0 108.0,168.0 114.0,165.0 120.0,166.0 128.0,168.0 134.0,164.0 142.0,160.0 150.0,158.0 158.0,154.0 166.0,151.6 174.0,152.4 180.0,151.0 185.0,147.0 190.0,142.0 200.0,130.0 210.0,115.0 216.0,107.0 222.0,104.4 230.0,102.0 238.0,96.0 246.0,91.0 254.0,87.0 262.0,83.0 270.0,79.0 278.0,77.4 286.0,80.0 294.0,85.0 302.0,90.0 310.0,98.0 318.0,110.0 326.0,120.0 334.0,128.0 342.0,134.0 350.0,140.0 358.0,146.0 364.0,152.0 370.0,158.0 378.0,165.0 386.0,169.0 394.0,173.0 400.0,173.0 406.0,170.0 411.0,167.6 416.0,169.0 422.0,172.0 428.0,176.0 434.0,182.0 440.0,190.0 446.0,198.0 452.0,204.0 458.0,209.0 464.0,214.0 470.0,217.4 473.0,218.4" fill="none" stroke="#ff0000" stroke-width="1"  shape-rendering="crispEdges"/>
<polyline points="68.0,232.4 74.0,231.0 80.0,227.0 86.0,221.0 92.0,214.0 98.0,208.0 104.0,204.0 110.0,200.5 116.0,198.0 124.0,197.4 130.0,199.6 138.0,196.0 146.0,192.0 154.0,188.0 162.0,185.0 172.0,185.6 178.0,185.5 184.0,182.0 190.0,177.0 196.0,172.0 202.0,164.0 208.0,156.0 214.0,148.0 220.0,144.0 228.0,141.0 234.0,138.0 240.0,134.5 246.0,130.0 254.0,126.0 262.0,122.0 270.0,119.4 278.0,118.6 286.0,121.0 294.0,126.0 302.0,132.0 310.0,139.0 318.0,147.0 324.0,153.0 328.0,156.0 336.0,163.0 344.0,170.0 352.0,176.0 360.0,183.0 368.0,190.0 376.0,196.0 384.0,200.0 392.0,204.0 398.0,206.0 404.0,204.0 410.0,200.4 413.0,200.0 418.0,202.0 424.0,205.0 430.0,210.0 436.0,216.0 442.0,222.0 448.0,227.0 454.0,232.0 460.0,237.0 466.0,241.0 472.0,244.4" fill="none" stroke="#ff0000" stroke-width="1"  shape-rendering="crispEdges"/>
<path d="M33.5,195V210M32,204.5H33M34,196.5H35M35.5,200V209M34,201.5H35M36,205.5H37M37.5,192V204M36,193.5H37M38,193.5H39M38.5,186V198M37,188.5H38M39,189.5H40M40.5,193V200M39,197.5H40M41,196.5H42M42.5,201V207M41,206.5H42M43,203.5H44M44.5,206V215M43,209.5H44M45,213.5H46M45.5,208V216M44,213.5H45M46,211.5H47M47.5,209V217M46,210.5H47M48,211.5H49M49.5,209V216M48,211.5H49M50,213.5H51M51.5,208V216M50,214.5H51M52,213.5H53M52.5,210V219M51,215.5H52M53,218.5H54M54.5,210V216M53,216.5H54M55,211.5H56M56.5,207V215M55,208.5H56M57,211.5H58M58.5,201V210M57,208.5H58M59,206.5H60M59.5,199V207M58,204.5H59M60,204.5H61M61.5,195V204M60,202.5H61M62,203.5H63M63.5,190V199M62,190.5H63M64,196.5H65M65.5,186V193M64,192.5H65M66,188.5H67M67.5,181V190M66,182.5H67M68,185.5H69M68.5,172V183M67,172.5H68M69,180.5H70M70.5,169V179M69,173.5H70M71,177.5H72M72.5,183V201M71,193.5H72M73,199.5H74M74.5,195V209M73,199.5H74M75,201.5H76M75.5,189V197M74,197.5H75M76,191.5H77M77.5,179V191M76,182.5H77M78,185.5H79M79.5,176V186M78,176.5H79M80,180.5H81M81.5,173V181M80,181.5H81M82,179.5H83M82.5,170V178M81,176.5H82M83,171.5H84M84.5,169V175M83,174.5H84M85,173.5H86M86.5,166V172M85,167.5H86M87,170.5H88M88.5,164V171M87,165.5H88M89,165.5H90M89.5,164V170M88,164.5H89M90,165.5H91M91.5,163V169M90,163.5H91M92,168.5H93M93.5,163V169M92,164.5H93M94,165.5H95M95.5,159V170M94,168.5H95M96,170.5H97M97.5,160V168M96,161.5H97M98,161.5H99M98.5,161V167M97,166.5H98M99,162.5H100M100.5,156V165M99,161.5H100M101,157.5H102M102.5,156V165M101,161.5H102M103,165.5H104M104.5,159V163M103,160.5H104M105,160.5H106M105.5,155V163M104,159.5H105M106,161.5H107M107.5,152V164M106,162.5H107M108,164.5H109M109.5,162V173M108,171.5H109M110,170.5H111M111.5,162V171M110,165.5H111M112,162.5H113M112.5,162V169M111,164.5H112M113,167.5H114M114.5,163V168M113,167.5H114M115,168.5H116M116.5,165V170M115,166.5H116M117,166.5H118M118.5,166V176M117,172.5H118M119,175.5H120M120.5,170V180M119,176.5H120M121,178.5H122M121.5,167V179M120,178.5H121M122,177.5H123M123.5,168V178M122,170.5H123M124,176.5H125M125.5,168V177M124,177.5H125M126,171.5H127M127.5,168V176M126,174.5H127M128,169.5H129M128.5,164V177M127,176.5H128M129,174.5H130M130.5,154V167M129,167.5H130M131,163.5H132M132.5,148V161M131,149.5H132M133,148.5H134M134.5,148V157M133,153.5H134M135,157.5H136M135.5,145V154M134,152.5H135M136,147.5H137M137.5,143V151M136,145.5H137M138,148.5H139M139.5,140V148M138,141.5H139M140,147.5H141M141.5,142V147M140,145.5H141M142,147.5H143M142.5,142V147M141,145.5H142M143,145.5H144M144.5,143V149M143,146.5H144M145,144.5H146M146.5,143V151M145,145.5H146M147,147.5H148M148.5,147V155M147,149.5H148M149,151.5H150M150.5,149V157M149,150.5H150M151,154.5H152M151.5,152V163M150,161.5H151M152,158.5H153M153.5,151V161M152,160.5H153M154,156.5H155M155.5,144V157M154,151.5H155M156,153.5H157M157.5,146V156M156,151.5H157M158,155.5H159M158.5,149V155M157,154.5H158M159,150.5H160M160.5,148V154M159,153.5H160M161,149.5H162M162.5,149V156M161,149.5H162M163,150.5H164M164.5,152V158M163,157.5H164M165,158.5H166M165.5,153V160M164,157.5H165M166,154.5H167M167.5,154V160M166,156.5H167M168,160.5H169M169.5,154V161M168,161.5H169M170,160.5H171M171.5,153V161M170,157.5H171M172,155.5H173M172.5,152V159M171,157.5H172M173,152.5H174M174.5,150V158M173,150.5H174M175,152.5H176M176.5,145V155M175,146.5H176M177,155.5H178M178.5,140V151M177,142.5H178M179,143.5H180M180.5,132V144M179,135.5H180M181,133.5H182M181.5,125V136M180,134.5H181M182,128.5H183M183.5,113V127M182,121.5H183M184,123.5H185M185.5,115V130M184,125.5H185M186,121.5H187M187.5,116V127M186,123.5H187M188,125.5H189M188.5,114V125M187,115.5H188M189,123.5H190M190.5,114V124M189,119.5H190M191,123.5H192M192.5,113V123M191,118.5H192M193,115.5H194M194.5,111V121M193,112.5H194M195,113.5H196M195.5,109V118M194,116.5H195M196,112.5H197M197.5,108V116M196,111.5H197M198,108.5H199M199.5,106V114M198,112.5H199M200,111.5H201M201.5,104V111M200,111.5H201M202,105.5H203M202.5,103V109M201,106.5H202M203,108.5H204M204.5,101V109M203,107.5H204M205,109.5H206M206.5,99V108M205,105.5H206M207,104.5H208M208.5,95V107M207,96.5H208M209,97.5H210M210.5,86V97M209,89.5H210M211,88.5H212M211.5,85V94M210,92.5H211M212,91.5H213M213.5,86V94M212,89.5H213M214,90.5H215M215.5,88V97M214,90.5H215M216,96.5H217M217.5,93V102M216,95.5H217M218,101.5H219M218.5,99V110M217,99.5H218M219,103.5H220M220.5,107V115M219,108.5H220M221,111.5H222M222.5,104V114M221,105.5H222M223,108.5H224M224.5,103V114M223,106.5H224M225,106.5H226M225.5,104V114M224,111.5H225M226,110.5H227M227.5,106V116M226,110.5H227M228,109.5H229M229.5,98V108M228,105.5H229M230,104.5H231M231.5,90V98M230,97.5H231M232,95.5H233M232.5,90V97M231,91.5H232M233,94.5H234M234.5,89V95M233,94.5H234M235,94.5H236M236.5,87V93M235,91.5H236M237,91.5H238M238.5,78V90M237,80.5H238M239,83.5H240M240.5,76V86M239,82.5H240M241,82.5H242M241.5,74V82M240,78.5H241M242,74.5H243M243.5,61V69M242,65.5H243M244,65.5H245M245.5,55V66M244,63.5H245M246,58.5H247M247.5,57V70M246,67.5H247M248,60.5H249M248.5,68V76M247,72.5H248M249,71.5H250M250.5,70V78M249,76.5H250M251,75.5H252M252.5,69V78M251,70.5H252M253,71.5H254M254.5,70V78M253,75.5H254M255,70.5H256M255.5,70V80M254,77.5H255M256,77.5H257M257.5,73V86M256,80.5H257M258,79.5H259M259.5,81V93M258,92.5H259M260,83.5H261M261.5,91V96M260,91.5H261M262,93.5H263M263.5,92V97M262,94.5H263M264,93.5H265M264.5,87V93M263,88.5H264M265,90.5H266M266.5,80V89M265,89.5H266M267,81.5H268M268.5,77V86M267,85.5H268M269,84.5H270M270.5,75V84M269,79.5H270M271,75.5H272M271.5,72V83M270,77.5H271M272,75.5H273M273.5,71V82M272,74.5H273M274,80.5H275M275.5,72V81M274,80.5H275M276,73.5H277M277.5,69V78M276,77.5H277M278,72.5H279M278.5,64V75M277,75.5H278M279,70.5H280M280.5,65V74M279,68.5H280M281,66.5H282M282.5,70V77M281,72.5H282M283,77.5H284M284.5,74V86M283,80.5H284M285,76.5H286M285.5,80V92M284,90.5H285M286,90.5H287M287.5,92V101M286,100.5H287M288,96.5H289M289.5,93V107M288,104.5H289M290,100.5H291M291.5,95V110M290,99.5H291M292,95.5H293M293.5,98V115M292,106.5H293M294,104.5H295M294.5,98V116M293,115.5H294M295,103.5H296M296.5,107V122M295,115.5H296M297,113.5H298M298.5,112V125M297,115.5H298M299,124.5H300M300.5,111V119M299,118.5H300M301,119.5H302M301.5,109V118M300,111.5H301M302,110.5H303M303.5,107V118M302,109.5H303M304,110.5H305M305.5,109V116M304,115.5H305M306,112.5H307M307.5,110V117M306,113.5H307M308,113.5H309M308.5,109V118M307,117.5H308M309,110.5H310M310.5,109V117M309,116.5H310M311,111.5H312M312.5,107V116M311,111.5H312M313,111.5H314M314.5,108V113M313,112.5H314M315,108.5H316M315.5,108V116M314,115.5H315M316,111.5H317M317.5,113V122M316,116.5H317M318,121.5H319M319.5,119V126M318,125.5H319M320,121.5H321M321.5,124V132M320,128.5H321M322,129.5H323M323.5,130V135M322,133.5H323M324,134.5H325M324.5,133V140M323,133.5H324M325,138.5H326M326.5,137V143M325,141.5H326M327,139.5H328M328.5,139V147M327,144.5H328M329,145.5H330M330.5,140V149M329,145.5H330M331,145.5H332M331.5,140V149M330,145.5H331M332,140.5H333M333.5,140V148M332,148.5H333M334,145.5H335M335.5,141V148M334,143.5H335M336,143.5H337M337.5,141V148M336,144.5H337M338,142.5H339M338.5,141V148M337,144.5H338M339,143.5H340M340.5,140V146M339,141.5H340M341,140.5H342M342.5,139V145M341,143.5H342M343,140.5H344M344.5,140V146M343,143.5H344M345,141.5H346M345.5,141V148M344,147.5H345M346,143.5H347M347.5,144V152M346,146.5H347M348,152.5H349M349.5,146V154M348,148.5H349M350,149.5H351M351.5,145V151M350,146.5H351M352,147.5H353M353.5,145V151M352,146.5H353M354,145.5H355M354.5,146V152M353,151.5H354M355,151.5H356M356.5,148V154M355,153.5H356M357,150.5H358M358.5,150V159M357,157.5H358M359,150.5H360M360.5,159V167M359,162.5H360M361,162.5H362M361.5,167V176M360,170.5H361M362,170.5H363M363.5,176V183M362,183.5H363M364,178.5H365M365.5,176V182M364,181.5H365M366,179.5H367M367.5,176V182M366,179.5H367M368,182.5H369M368.5,177V183M367,182.5H368M369,177.5H370M370.5,179V185M369,183.5H370M371,179.5H372M372.5,180V190M371,189.5H372M373,183.5H374M374.5,184V194M373,187.5H374M375,186.5H376M375.5,178V185M374,180.5H375M376,183.5H377M377.5,171V178M376,171.5H377M378,176.5H379M379.5,160V166M378,165.5H379M380,160.5H381M381.5,154V161M380,161.5H381M382,161.5H383M383.5,158V166M382,161.5H383M384,162.5H385M384.5,160V168M383,167.5H384M385,166.5H386M386.5,161V168M385,165.5H386M387,163.5H388M388.5,161V169M387,167.5H388M389,161.5H390M390.5,160V169M389,162.5H390M391,161.5H392M391.5,161V170M390,164.5H391M392,170.5H393M393.5,169V175M392,170.5H393M394,169.5H395M395.5,172V180M394,178.5H395M396,175.5H397M397.5,175V184M396,180.5H397M398,181.5H399M398.5,171V182M397,178.5H398M399,173.5H400M400.5,168V179M399,174.5H400M401,172.5H402M402.5,165V173M401,167.5H402M403,167.5H404M404.5,161V168M403,165.5H404M405,163.5H406M406.5,156V166M405,161.5H406M407,159.5H408M407.5,153V164M406,164.5H407M408,155.5H409M409.5,157V165M408,164.5H409M410,164.5H411M411.5,162V171M410,163.5H411M412,164.5H413M413.5,166V176M412,175.5H413M414,170.5H415M414.5,168V179M413,171.5H414M415,177.5H416M416.5,175V184M415,180.5H416M417,181.5H418M418.5,184V191M417,185.5H418M419,185.5H420M420.5,183V189M419,187.5H420M421,184.5H422M421.5,182V189M420,187.5H421M422,183.5H423M423.5,182V189M422,187.5H423M424,186.5H425M425.5,183V190M424,185.5H425M426,186.5H427M427.5,185V192M426,186.5H427M428,190.5H429M428.5,189V198M427,192.5H428M429,198.5H430M430.5,202V217M429,207.5H430M431,208.5H432M432.5,206V217M431,210.5H432M433,208.5H434M434.5,208V220M433,208.5H434M435,218.5H436M436.5,205V214M435,208.5H436M437,213.5H438M437.5,199V210M436,199.5H437M438,205.5H439M439.5,200V208M438,201.5H439M440,205.5H441M441.5,204V209M440,205.5H441M442,205.5H443M443.5,211V219M442,212.5H443M444,215.5H445M444.5,212V218M443,213.5H444M445,213.5H446M446.5,212V217M445,214.5H446M447,212.5H448M448.5,211V217M447,217.5H448M449,215.5H450M450.5,209V216M449,214.5H450M451,210.5H452M451.5,209V215M450,214.5H451M452,210.5H453M453.5,211V218M452,214.5H453M454,214.5H455M455.5,216V223M454,221.5H455M456,222.5H457M457.5,220V227M456,226.5H457M458,221.5H459M458.5,218V225M457,222.5H458M459,222.5H460M460.5,214V220M459,216.5H460M461,217.5H462M462.5,213V219M461,216.5H462M463,216.5H464M464.5,215V223M463,219.5H464M465,217.5H466M466.5,219V225M465,222.5H466M467,220.5H468M467.5,221V229M466,222.5H467M468,224.5H469M469.5,222V233M468,228.5H469M470,223.5H471M471.5,230V240M470,238.5H471M472,238.5H473M473.5,235V247M472,241.5H473M474,240.5H475" stroke="#000" stroke-width="1" fill="none" shape-rendering="crispEdges"/>
<polyline points="144.0,178.4 150.0,176.0 160.0,171.5 170.0,167.0 180.0,162.0 190.0,156.5 200.0,150.0 210.0,145.0 220.0,139.0 230.0,134.0 240.0,126.0 250.0,118.0 260.0,113.0 270.0,107.0 280.0,100.0 288.0,95.0 296.0,93.0 304.0,92.2 310.0,92.0 314.0,92.4 322.0,94.4 330.0,97.0 338.0,100.0 346.0,104.0 354.0,109.0 362.0,115.0 370.0,122.0 378.0,129.0 386.0,135.0 394.0,142.0 402.0,148.0 404.0,149.0 412.0,152.0 420.0,157.0 428.0,162.0 436.0,169.0 444.0,174.0 452.0,179.0 460.0,183.6 468.0,189.0 473.0,191.6" fill="none" stroke="#800080" stroke-width="2.5" stroke-linejoin="round" stroke-linecap="round" shape-rendering="crispEdges"/>
<line x1="71.5" y1="172" x2="71.5" y2="218" stroke="#ff0000" stroke-width="1" shape-rendering="crispEdges"/>
<line x1="179.5" y1="109" x2="179.5" y2="154" stroke="#ff0000" stroke-width="1" shape-rendering="crispEdges"/>
<line x1="242.5" y1="46" x2="242.5" y2="66" stroke="#ff0000" stroke-width="1" shape-rendering="crispEdges"/>
<line x1="288.5" y1="75" x2="288.5" y2="103" stroke="#ff0000" stroke-width="1" shape-rendering="crispEdges"/>
<line x1="325.5" y1="138" x2="325.5" y2="155" stroke="#ff0000" stroke-width="1" shape-rendering="crispEdges"/>
<line x1="401.5" y1="147" x2="401.5" y2="186" stroke="#ff0000" stroke-width="1" shape-rendering="crispEdges"/>
<line x1="471.5" y1="234" x2="471.5" y2="241" stroke="#ff0000" stroke-width="1" shape-rendering="crispEdges"/>
<polyline points="86.0,223.0 94.0,221.0 102.0,219.6 110.0,219.6 120.0,220.6 130.0,222.0 140.0,222.6 150.0,222.4 160.0,222.6 170.0,223.6 180.0,226.5 190.0,226.0 200.0,223.0 210.0,220.0 220.0,218.0 230.0,216.0 240.0,213.0 250.0,211.0 260.0,210.0 270.0,209.6 280.0,209.6 290.0,212.0 300.0,218.0 310.0,225.0 320.0,232.0 330.0,236.0 340.0,240.0 354.0,244.0 368.0,249.0 380.0,253.0 392.0,256.0 404.0,259.0 416.0,262.0 428.0,267.0 440.0,272.0 452.0,276.0 460.0,278.3 472.7,281.7" fill="none" stroke="#ff0000" stroke-width="1" stroke-dasharray="1,1"  shape-rendering="crispEdges"/>
<polyline points="32.0,227.6 38.0,225.0 44.0,230.0 50.0,229.0 56.0,227.0 62.0,223.0 68.0,218.0 71.0,231.0 74.0,224.0 76.0,223.0 78.0,230.0 82.0,220.0 88.0,217.0 94.0,216.0 100.0,216.4 104.0,220.0 108.0,225.0 112.0,223.0 118.0,224.0 122.0,227.0 128.0,223.0 131.0,217.0 136.0,218.0 144.0,219.0 148.0,222.0 152.0,227.0 158.0,226.0 164.0,229.0 170.0,228.0 176.0,225.0 180.0,227.0 182.0,220.0 184.0,223.6 190.0,222.0 198.0,219.0 206.0,217.0 209.0,212.0 212.0,212.0 218.0,218.0 223.0,217.0 227.0,218.4 232.0,212.0 238.0,205.0 244.0,201.6 247.0,207.0 252.0,208.0 256.0,210.0 259.0,215.6 263.0,215.6 266.0,211.0 270.0,210.0 275.0,207.0 278.0,205.0 282.0,209.0 285.0,214.0 288.0,226.0 292.0,225.0 295.0,232.0 298.0,236.4 302.0,233.6 308.0,234.5 313.0,232.0 317.0,237.0 322.0,240.4 326.0,242.0 334.0,242.0 344.0,241.0 349.0,244.0 354.0,243.4 360.0,251.0 366.0,258.0 373.0,259.0 377.0,254.0 382.0,255.0 386.0,257.0 391.0,255.0 394.0,261.0 398.0,259.0 401.0,266.0 404.0,264.0 406.0,261.7 410.5,264.7 416.5,273.0 422.5,270.7 428.5,273.7 433.0,278.0 436.7,275.0 442.0,278.0 448.0,276.7 452.5,282.7 457.0,285.0 460.7,281.0 466.0,282.0 469.7,286.5 472.4,291.0" fill="none" stroke="#0000ff" stroke-width="2" stroke-linejoin="round" shape-rendering="crispEdges"/>
<polyline points="71.0,284.0 80.0,282.0 90.0,280.6 110.0,279.6 130.0,279.0 150.0,279.5 170.0,280.0 180.0,279.6 190.0,277.0 200.0,274.0 210.0,270.0 216.0,268.0 226.0,269.0 238.0,269.6 246.0,268.0 258.0,265.6 270.0,264.4 280.0,264.4 290.0,266.0 300.0,267.3 312.0,269.0 324.0,272.0 336.0,276.0 348.0,280.0 360.0,285.0 372.0,289.0 384.0,292.0 396.0,294.0 408.0,294.6 420.0,295.0 432.0,296.5 445.0,298.0 460.0,300.4 472.7,302.5" fill="none" stroke="#000" stroke-width="1" stroke-dasharray="1,1"  shape-rendering="crispEdges"/>
<polyline points="32.0,280.0 38.0,279.0 46.0,281.0 54.0,281.6 66.0,282.0 71.0,285.0 76.0,282.0 84.0,279.0 92.0,278.0 100.0,279.4 110.0,279.0 120.0,279.0 130.0,278.0 140.0,278.0 150.0,280.0 160.0,280.0 170.0,280.5 176.0,279.0 180.0,275.0 186.0,271.6 192.0,269.6 200.0,268.0 208.0,265.6 212.0,266.0 218.0,270.0 226.0,272.4 232.0,270.6 240.0,269.4 242.0,264.0 250.0,264.4 258.0,264.4 262.0,266.4 270.0,265.0 278.0,264.0 284.0,265.6 288.0,269.4 294.0,269.0 298.0,271.0 304.0,270.0 312.0,270.0 322.0,272.0 324.0,282.0 332.0,282.0 336.0,282.6 342.0,281.0 348.0,283.0 358.0,287.0 362.0,294.0 370.0,294.6 374.0,296.6 379.0,292.0 384.0,293.6 392.0,294.6 397.0,296.6 402.0,295.6 407.0,294.0 412.0,295.5 418.0,298.0 422.5,295.8 427.0,296.0 433.0,300.7 439.0,299.0 443.5,300.4 448.0,299.7 456.0,304.5 460.7,301.0 466.0,303.7 472.4,307.0" fill="none" stroke="#ff00ff" stroke-width="2" stroke-linejoin="round" shape-rendering="crispEdges"/>
<polyline points="118.0,316.0 130.0,314.4 140.0,313.0 150.0,311.0 160.0,308.0 170.0,308.0 180.0,305.0 190.0,300.0 200.0,295.0 210.0,289.0 220.0,286.0 230.0,285.0 240.0,282.0 250.0,278.0 260.0,274.0 270.0,271.0 278.0,270.4 286.0,272.0 294.0,275.0 302.0,279.0 310.0,283.0 320.0,289.0 330.0,295.0 340.0,300.0 350.0,305.0 360.0,309.0 370.0,314.0 380.0,318.0 388.0,320.0 396.0,320.6 404.0,319.0 412.0,316.0 420.0,317.0 430.0,318.0 440.0,321.0 450.0,324.0 460.0,328.0 472.0,333.0" fill="none" stroke="#ff0000" stroke-width="1" stroke-dasharray="1,1"  shape-rendering="crispEdges"/>
<polyline points="33.0,328.0 37.0,323.0 41.0,327.0 45.0,330.0 49.0,325.0 53.0,323.0 57.0,325.0 60.0,320.0 64.0,317.0 68.0,315.0 70.4,313.0 71.0,335.0 73.0,330.0 76.0,320.0 80.0,318.0 88.0,317.0 96.0,316.0 106.0,315.0 108.0,319.0 112.0,317.0 120.0,319.0 124.0,315.0 128.0,312.0 131.0,307.0 140.0,307.0 148.0,306.0 150.0,309.0 154.0,305.0 156.0,309.0 160.0,304.0 164.0,307.0 168.0,310.0 173.0,308.0 176.0,298.0 180.0,290.0 182.0,282.0 184.4,293.0 190.0,290.0 198.0,287.0 205.0,286.0 208.0,280.0 214.0,281.0 218.0,289.0 223.0,286.0 227.0,288.0 230.0,280.0 236.0,274.0 242.0,270.0 244.0,265.0 248.0,268.0 256.0,268.4 259.0,278.0 264.0,279.0 268.0,273.0 274.0,270.0 278.0,265.6 282.0,274.0 286.0,284.0 292.0,283.0 297.0,294.0 302.0,291.0 308.0,294.0 313.0,291.0 318.0,299.0 322.0,302.0 324.4,309.0 328.0,307.0 334.0,305.0 340.0,306.6 344.0,305.0 348.0,311.0 354.0,310.6 359.0,315.0 362.0,322.0 368.0,323.0 373.0,326.0 378.0,314.0 382.0,318.0 388.0,318.0 390.0,315.0 392.0,320.0 396.0,321.0 400.0,318.0 403.0,316.0 406.0,311.0 410.0,312.0 414.0,316.0 417.0,322.0 422.0,323.0 428.0,323.0 432.0,322.0 438.0,325.0 444.0,328.0 447.0,324.0 452.0,329.0 456.0,336.0 462.4,330.5 467.0,336.0 472.0,344.5" fill="none" stroke="#000" stroke-width="2" stroke-linejoin="round" shape-rendering="crispEdges"/>
<path d="M68.5,368V374M70.5,370V374M74.5,370V374M75.5,365V374M77.5,359V374M79.5,357V374M81.5,356V374M82.5,355V374M84.5,354V374M86.5,353V374M88.5,353V374M89.5,352V374M91.5,352V374M93.5,352V374M95.5,352V374M97.5,352V374M98.5,354V374M100.5,358V374M102.5,361V374M104.5,364V374M105.5,365V374M107.5,366V374M109.5,358V374M111.5,366V374M112.5,369V374M153.5,372V374M155.5,373V374M160.5,371V374M162.5,372V374M164.5,368V374M165.5,363V374M167.5,373V374M176.5,372V374M178.5,366V374M180.5,360V374M181.5,356V374M183.5,349V374M185.5,354V374M187.5,353V374M188.5,354V374M190.5,357V374M192.5,355V374M194.5,353V374M195.5,353V374M197.5,352V374M199.5,351V374M201.5,350V374M202.5,350V374M204.5,349V374M206.5,348V374M208.5,345V374M210.5,344V374M211.5,346V374M213.5,349V374M215.5,352V374M217.5,354V374M218.5,355V374M220.5,363V374M222.5,358V374M224.5,357V374M225.5,357V374M227.5,356V374M229.5,354V374M231.5,353V374M232.5,353V374M234.5,352V374M236.5,350V374M238.5,348V374M240.5,349V374M241.5,350V374M243.5,355V374M326.5,367V374M328.5,366V374M330.5,365V374M331.5,363V374M333.5,360V374M335.5,356V374M337.5,359V374M338.5,361V374M340.5,362V374M342.5,361V374M344.5,363V374M345.5,365V374M347.5,367V374M349.5,369V374M351.5,370V374M353.5,369V374M354.5,369V374M356.5,371V374M358.5,373V374M420.5,371V374M421.5,371V374M423.5,370V374M425.5,371V374M430.5,368V374M432.5,370V374M434.5,372V374M436.5,369V374M437.5,367V374M439.5,369V374" stroke="#0000ff" stroke-width="1" fill="none" shape-rendering="crispEdges"/>
<path d="M72.5,374V380M114.5,374V376M116.5,374V379M118.5,374V381M120.5,374V384M121.5,374V385M123.5,374V387M125.5,374V390M127.5,374V393M128.5,374V395M130.5,374V390M132.5,374V386M134.5,374V383M135.5,374V382M137.5,374V380M139.5,374V378M141.5,374V380M142.5,374V382M144.5,374V378M148.5,374V376M150.5,374V378M151.5,374V376M157.5,374V375M169.5,374V379M171.5,374V376M172.5,374V375M245.5,374V375M247.5,374V379M248.5,374V379M250.5,374V379M252.5,374V377M254.5,374V378M255.5,374V378M257.5,374V381M259.5,374V384M261.5,374V388M263.5,374V381M264.5,374V382M266.5,374V383M268.5,374V386M270.5,374V387M271.5,374V386M273.5,374V387M275.5,374V390M277.5,374V389M278.5,374V389M280.5,374V380M282.5,374V376M284.5,374V376M285.5,374V378M287.5,374V389M289.5,374V394M291.5,374V392M293.5,374V395M294.5,374V397M296.5,374V400M298.5,374V402M300.5,374V401M301.5,374V400M303.5,374V399M305.5,374V398M307.5,374V399M308.5,374V400M310.5,374V402M312.5,374V404M314.5,374V404M315.5,374V404M317.5,374V403M319.5,374V403M321.5,374V402M323.5,374V394M324.5,374V380M360.5,374V375M361.5,374V385M363.5,374V402M365.5,374V408M367.5,374V412M368.5,374V412M370.5,374V414M372.5,374V411M374.5,374V407M375.5,374V406M377.5,374V406M379.5,374V408M381.5,374V410M383.5,374V410M384.5,374V409M386.5,374V409M388.5,374V407M390.5,374V406M391.5,374V405M393.5,374V404M395.5,374V402M397.5,374V400M398.5,374V398M400.5,374V388M402.5,374V384M404.5,374V381M406.5,374V376M407.5,374V378M409.5,374V382M411.5,374V386M413.5,374V388M414.5,374V385M416.5,374V379M418.5,374V375M444.5,374V375M446.5,374V375M448.5,374V378M450.5,374V381M451.5,374V383M453.5,374V388M455.5,374V393M457.5,374V393M458.5,374V390M460.5,374V384M462.5,374V382M464.5,374V381M466.5,374V383M467.5,374V384M469.5,374V388M471.5,374V391M473.5,374V396" stroke="#ff0000" stroke-width="1" fill="none" shape-rendering="crispEdges"/>
<polyline points="68.0,368.0 69.0,365.0 72.0,380.0 76.0,360.0 80.0,356.0 86.0,353.0 92.0,351.6 97.0,352.0 100.0,358.0 104.0,364.0 107.0,366.0 109.0,358.0 111.0,366.0 114.0,376.0 120.0,384.0 124.0,388.0 128.0,395.0 132.0,386.0 136.0,380.0 140.0,378.0 142.0,382.0 146.0,374.0 150.0,378.0 154.0,370.0 156.0,376.0 160.0,371.0 163.0,372.0 165.6,360.6 167.0,373.0 168.4,380.0 172.0,375.0 176.0,372.0 179.0,363.0 182.0,353.0 182.6,346.0 184.0,355.0 187.0,353.0 190.0,357.0 193.0,354.0 198.0,351.0 202.0,350.0 206.0,348.0 209.6,343.4 212.0,347.0 215.0,352.0 218.0,355.0 220.4,365.0 222.0,358.0 225.0,357.0 229.0,354.0 234.0,352.0 238.0,348.0 241.0,350.0 243.0,355.0 244.4,373.0 246.0,378.0 249.0,380.0 252.0,377.0 255.0,378.0 258.0,382.0 261.0,388.0 263.0,381.0 266.0,383.0 269.0,387.0 272.0,386.0 275.0,390.0 278.0,389.0 280.0,380.0 283.0,374.0 285.0,378.0 288.0,395.0 291.0,392.0 294.0,397.0 298.0,402.0 305.0,397.5 312.5,404.0 320.0,402.5 322.5,400.0 325.0,367.5 330.0,365.0 335.0,356.0 339.0,362.5 342.5,361.0 346.0,366.0 350.0,370.0 354.0,369.0 357.5,372.5 360.0,375.0 362.5,400.0 366.0,411.0 370.0,414.0 376.0,404.0 380.0,410.0 386.0,409.0 392.5,404.0 397.5,400.0 400.0,387.5 404.0,381.0 406.0,376.0 409.0,382.5 412.5,389.0 416.0,379.0 420.0,371.0 424.0,370.0 427.5,375.0 430.0,367.5 434.0,372.5 437.5,366.0 441.0,374.0 446.0,375.0 450.0,381.0 454.0,390.0 456.0,396.0 460.0,384.0 464.0,381.0 467.5,385.0 471.0,391.0 473.0,396.0" fill="none" stroke="#000" stroke-width="1"  shape-rendering="crispEdges"/>
<polyline points="123.0,366.0 130.0,372.0 140.0,378.0 146.0,382.0 152.0,383.0 160.0,380.0 168.0,377.0 176.0,374.0 184.0,370.0 192.0,366.0 200.0,362.0 208.0,356.0 214.0,352.0 224.0,352.6 234.0,352.6 242.0,352.6 248.0,357.0 256.0,362.0 264.0,368.0 272.0,375.0 280.0,383.0 288.0,384.0 294.0,388.0 300.0,389.0 310.0,394.0 321.0,400.0 327.5,394.0 335.0,386.0 345.0,376.0 355.0,369.0 360.0,366.0 365.0,370.0 372.5,380.0 380.0,390.0 390.0,402.5 395.0,407.5 400.0,406.0 407.5,401.0 415.0,394.0 422.5,386.0 430.0,381.0 437.5,376.0 445.0,374.0 452.5,374.0 460.0,376.0 467.5,379.0 473.0,381.0" fill="none" stroke="#000" stroke-width="1"  shape-rendering="crispEdges"/>
<path d="M100.5,144 L97,139.5 L99,140.5 V134 H102 V140.5 L104,139.5 Z" fill="#0000ff" stroke="none" shape-rendering="crispEdges"/>
<path d="M105.5,144 L102,139.5 L104,140.5 V134 H107 V140.5 L109,139.5 Z" fill="#0000ff" stroke="none" shape-rendering="crispEdges"/>
<path d="M117.5,154 L114,149.5 L116,150.5 V145 H119 V150.5 L121,149.5 Z" fill="#0000ff" stroke="none" shape-rendering="crispEdges"/>
<path d="M168.5,132 L165,127.5 L167,128.5 V123 H170 V128.5 L172,127.5 Z" fill="#0000ff" stroke="none" shape-rendering="crispEdges"/>
<path d="M220,73V81M221,73V81" stroke="#0000ff" stroke-width="1" fill="none" shape-rendering="crispEdges"/><path d="M217.5,78.5L220.5,81.5L223.5,78.5" fill="none" stroke="#0000ff" stroke-width="1.2"/>
<path d="M280,45V53M281,45V53" stroke="#0000ff" stroke-width="1" fill="none" shape-rendering="crispEdges"/><path d="M277.5,50.5L280.5,53.5L283.5,50.5" fill="none" stroke="#0000ff" stroke-width="1.2"/>
<path d="M416.5,156 L413,151.5 L415,152.5 V146 H418 V152.5 L420,151.5 Z" fill="#0000ff" stroke="none" shape-rendering="crispEdges"/>
<path d="M71.5,151V160M68.5,156.5L71.5,159.5L74.5,156.5" fill="none" stroke="#0000ff" stroke-width="1"/>
<path d="M285.5,62 L282,57.5 L284,58.5 V53 H287 V58.5 L289,57.5 Z" fill="#ff0000" stroke="none" shape-rendering="crispEdges"/>
<path d="M409.5,141 L406,136.5 L408,137.5 V132 H411 V137.5 L413,136.5 Z" fill="#ff0000" stroke="none" shape-rendering="crispEdges"/>
<path d="M101.5,183 L98,187.5 L100,186.5 V194 H103 V186.5 L105,187.5 Z" fill="#0000ff" stroke="none" shape-rendering="crispEdges"/>
<path d="M109.5,183V194M106.5,186.5L109.5,183.5L112.5,186.5" fill="none" stroke="#0000ff" stroke-width="1"/>
<path d="M126.5,185 L123,189.5 L125,188.5 V195 H128 V188.5 L130,189.5 Z" fill="#0000ff" stroke="none" shape-rendering="crispEdges"/>
<path d="M174.5,169 L171,173.5 L173,172.5 V180 H176 V172.5 L178,173.5 Z" fill="#0000ff" stroke="none" shape-rendering="crispEdges"/>
<path d="M221.5,126 L218,130.5 L220,129.5 V138 H223 V129.5 L225,130.5 Z" fill="#0000ff" stroke="none" shape-rendering="crispEdges"/>
<path d="M398,194V203.5M399,194V203.5" stroke="#0000ff" stroke-width="1" fill="none" shape-rendering="crispEdges"/><path d="M395.5,196.5L398.5,193.5L401.5,196.5" fill="none" stroke="#0000ff" stroke-width="1.2"/>
<path d="M170.5,169 L167,173.5 L169,172.5 V180 H172 V172.5 L174,173.5 Z" fill="#ff0000" stroke="none" shape-rendering="crispEdges"/>
<path d="M406,189V198.5M407,189V198.5" stroke="#ff0000" stroke-width="1" fill="none" shape-rendering="crispEdges"/><path d="M403.5,191.5L406.5,188.5L409.5,191.5" fill="none" stroke="#ff0000" stroke-width="1.2"/>
<path d="M179.5,197V209M176.5,200.5L179.5,197.5L182.5,200.5" fill="none" stroke="#ff0000" stroke-width="1"/>
<path d="M182.5,197V209M179.5,200.5L182.5,197.5L185.5,200.5" fill="none" stroke="#ff0000" stroke-width="1"/>
<path d="M209.5,160V174M206.5,163.5L209.5,160.5L212.5,163.5" fill="none" stroke="#ff0000" stroke-width="1"/>
<path d="M221.5,160V169M218.5,163.5L221.5,160.5L224.5,163.5" fill="none" stroke="#000" stroke-width="1"/>
<path d="M295.5,60V73M292.5,69.5L295.5,72.5L298.5,69.5" fill="none" stroke="#000" stroke-width="1"/>
<path d="M297.5,74V82M294.5,78.5L297.5,81.5L300.5,78.5" fill="none" stroke="#000" stroke-width="1"/>
<path d="M324.5,81V94M321.5,90.5L324.5,93.5L327.5,90.5" fill="none" stroke="#000" stroke-width="1"/>
<path d="M320.5,95V104M317.5,100.5L320.5,103.5L323.5,100.5" fill="none" stroke="#000" stroke-width="1"/>
<path d="M361.5,161V177M358.5,173.5L361.5,176.5L364.5,173.5" fill="none" stroke="#ff0000" stroke-width="1"/>
<path d="M378.5,146V159M375.5,155.5L378.5,158.5L381.5,155.5" fill="none" stroke="#ff0000" stroke-width="1"/>
<path d="M361.5,128V140M358.5,136.5L361.5,139.5L364.5,136.5" fill="none" stroke="#ff0000" stroke-width="1"/>
<path d="M459.5,214V230M456.5,217.5L459.5,214.5L462.5,217.5" fill="none" stroke="#ff0000" stroke-width="1"/>
<path d="M71.5,222 L68,226.5 L70,225.5 V231 H73 V225.5 L75,226.5 Z" fill="#0000ff" stroke="none" shape-rendering="crispEdges"/>
<path d="M77.5,222 L74,226.5 L76,225.5 V231 H79 V225.5 L81,226.5 Z" fill="#0000ff" stroke="none" shape-rendering="crispEdges"/>
<defs><filter id="thr" x="0" y="0" width="800" height="600" filterUnits="userSpaceOnUse" color-interpolation-filters="sRGB"><feComponentTransfer><feFuncA type="discrete" tableValues="0 0 0 0 0 1 1 1 1 1 1 1"/></feComponentTransfer></filter></defs>
<g xml:space="preserve" filter="url(#thr)">
<text x="4" y="11.5" textLength="441" lengthAdjust="spacingAndGlyphs" font-size="13">(Red arrows)#1 Indicator=50-day ma penetrations by .5%. Its gain= 64.4% Sell</text>
<text x="2" y="25.5" textLength="19" lengthAdjust="spacingAndGlyphs" font-size="13">CGI</text>
<text x="33" y="25.5" textLength="104.5" lengthAdjust="spacingAndGlyphs" font-size="13">Celadon Group Inc</text>
<text x="148" y="25.5" textLength="151" lengthAdjust="spacingAndGlyphs" font-size="13">(C)2015 www.tigersoft.com</text>
<text x="317" y="25.5" textLength="37" lengthAdjust="spacingAndGlyphs" font-size="13">Close=</text>
<text x="364" y="25.5" textLength="31" lengthAdjust="spacingAndGlyphs" font-size="13">16.52</text>
<text x="404" y="25.5" textLength="72" lengthAdjust="spacingAndGlyphs" font-size="13">Change=-.45</text>
<text x="482" y="25.5" textLength="25" lengthAdjust="spacingAndGlyphs" font-size="13">Vol=</text>
<text x="513" y="25.5" textLength="26" lengthAdjust="spacingAndGlyphs" font-size="13">2937</text>
<text x="36" y="39.5" textLength="10" lengthAdjust="spacingAndGlyphs" font-size="13">9/</text>
<text x="52" y="39.5" textLength="17" lengthAdjust="spacingAndGlyphs" font-size="13">30/</text>
<text x="77" y="39.5" textLength="17.5" lengthAdjust="spacingAndGlyphs" font-size="13">14-</text>
<text x="101" y="39.5" textLength="10" lengthAdjust="spacingAndGlyphs" font-size="13">9/</text>
<text x="117" y="39.5" textLength="17" lengthAdjust="spacingAndGlyphs" font-size="13">25/</text>
<text x="141" y="39.5" textLength="14" lengthAdjust="spacingAndGlyphs" font-size="13">15</text>
<text x="5.7" y="54" textLength="13.8" lengthAdjust="spacingAndGlyphs" font-size="13.6">29</text>
<text x="5.7" y="69" textLength="13.8" lengthAdjust="spacingAndGlyphs" font-size="13.6">28</text>
<text x="5.7" y="85" textLength="13.8" lengthAdjust="spacingAndGlyphs" font-size="13.6">27</text>
<text x="5.7" y="101" textLength="13.8" lengthAdjust="spacingAndGlyphs" font-size="13.6">26</text>
<text x="5.7" y="117" textLength="13.8" lengthAdjust="spacingAndGlyphs" font-size="13.6">25</text>
<text x="5.7" y="133" textLength="13.8" lengthAdjust="spacingAndGlyphs" font-size="13.6">24</text>
<text x="5.7" y="149" textLength="13.8" lengthAdjust="spacingAndGlyphs" font-size="13.6">23</text>
<text x="5.7" y="165" textLength="13.8" lengthAdjust="spacingAndGlyphs" font-size="13.6">22</text>
<text x="5.7" y="181" textLength="13.8" lengthAdjust="spacingAndGlyphs" font-size="13.6">21</text>
<text x="5.7" y="197" textLength="13.8" lengthAdjust="spacingAndGlyphs" font-size="13.6">20</text>
<text x="5.7" y="213" textLength="13.8" lengthAdjust="spacingAndGlyphs" font-size="13.6">19</text>
<text x="5.7" y="228" textLength="13.8" lengthAdjust="spacingAndGlyphs" font-size="13.6">18</text>
<text x="5.7" y="244" textLength="13.8" lengthAdjust="spacingAndGlyphs" font-size="13.6">17</text>
<text x="5.7" y="260" textLength="13.8" lengthAdjust="spacingAndGlyphs" font-size="13.6">16</text>
<text x="528.8" y="47.8" textLength="113.5" lengthAdjust="spacingAndGlyphs" font-size="13">Year's Gain= -15.1%</text>
<text x="529.3" y="60.8" textLength="115" lengthAdjust="spacingAndGlyphs" font-size="13">% of days up= 46.2%</text>
<text x="529.3" y="73.3" textLength="140.5" lengthAdjust="spacingAndGlyphs" font-size="13">% of openings up= 53.8%</text>
<text x="529.3" y="85.8" textLength="136" lengthAdjust="spacingAndGlyphs" font-size="13">% of closings up= 46.6%</text>
<text x="529.3" y="98.3" textLength="113.5" lengthAdjust="spacingAndGlyphs" font-size="13">65-day gain= -24.8%</text>
<text x="511.3" y="114.8" textLength="204" lengthAdjust="spacingAndGlyphs" font-size="13">5dma= 17.4 21dma= 18.3 65dma=20</text>
<text x="511.3" y="127.3" textLength="244.5" lengthAdjust="spacingAndGlyphs" font-size="13">Falling 5-dma falling 21-dma falling 65-dma</text>
<text x="511.3" y="143.3" textLength="140" lengthAdjust="spacingAndGlyphs" font-size="13">BEARISH PRICE TREND</text>
<text x="529.3" y="155.8" textLength="76" lengthAdjust="spacingAndGlyphs" font-size="13">65d-PR%= 0%</text>
<text x="511.3" y="172.3" textLength="92" lengthAdjust="spacingAndGlyphs" font-size="13">Public is bearish</text>
<text x="529.3" y="184.8" textLength="95" lengthAdjust="spacingAndGlyphs" font-size="13">65d-OP%= 55.1%</text>
<text x="511.3" y="201.3" textLength="141" lengthAdjust="spacingAndGlyphs" font-size="13">Professionals are bearish</text>
<text x="529.3" y="213.8" textLength="76" lengthAdjust="spacingAndGlyphs" font-size="13">65d-CP%= 0%</text>
<text x="511.3" y="234.3" textLength="89" lengthAdjust="spacingAndGlyphs" font-size="13">CP%vsPr%=  0%</text>
<text x="511.3" y="252.3" textLength="150.5" lengthAdjust="spacingAndGlyphs" font-size="13">Strength Profess/Pub= 5.2</text>
<text x="511.3" y="268.3" textLength="142.5" lengthAdjust="spacingAndGlyphs" font-size="13">CLOSING POWER (blue):</text>
<text x="511.3" y="281.3" textLength="41" lengthAdjust="spacingAndGlyphs" font-size="13">Bearish</text>
<text x="511.3" y="302.3" textLength="87.5" lengthAdjust="spacingAndGlyphs" font-size="13">OBV (magenta):</text>
<text x="511.3" y="314.3" textLength="37" lengthAdjust="spacingAndGlyphs" font-size="13">Beaish</text>
<text x="511.3" y="333.3" textLength="148.5" lengthAdjust="spacingAndGlyphs" font-size="13">REL.STR..VS DJI (brown):</text>
<text x="511.3" y="345.8" textLength="41" lengthAdjust="spacingAndGlyphs" font-size="13">Bearish</text>
<text x="511.3" y="358.3" textLength="65" lengthAdjust="spacingAndGlyphs" font-size="13">ITRS=-.145</text>
<text x="511.3" y="384.8" textLength="154" lengthAdjust="spacingAndGlyphs" font-size="13">Bearish: Distrubtion Falling.</text>
<text x="529.3" y="395.3" textLength="37.5" lengthAdjust="spacingAndGlyphs" font-size="13">IP= -.2</text>
<text x="2" y="301.5" textLength="117" lengthAdjust="spacingAndGlyphs" font-size="13">Insider Buying= 0/65</text>
<text x="2" y="314.5" textLength="123" lengthAdjust="spacingAndGlyphs" font-size="13">Insider Selling= 19/65</text>
<text x="45" y="321" textLength="24" lengthAdjust="spacingAndGlyphs" font-size="13">+.38</text>
<text x="2" y="337.5" textLength="79" lengthAdjust="spacingAndGlyphs" font-size="13">Insider Buying</text>
<text x="2" y="351" textLength="67" lengthAdjust="spacingAndGlyphs" font-size="13">Accum +.25</text>
<text x="2" y="363" textLength="30" lengthAdjust="spacingAndGlyphs" font-size="13">Index</text>
<text x="2" y="376" textLength="63" lengthAdjust="spacingAndGlyphs" font-size="13">AI= 80/200</text>
<text x="46" y="405" textLength="20" lengthAdjust="spacingAndGlyphs" font-size="13">-.25</text>
<text x="44" y="413.5" textLength="21" lengthAdjust="spacingAndGlyphs" font-size="13">Oct</text>
<text x="84" y="413.5" textLength="23.5" lengthAdjust="spacingAndGlyphs" font-size="13">Nov</text>
<text x="117.5" y="413.5" textLength="23.5" lengthAdjust="spacingAndGlyphs" font-size="13">Dec</text>
<text x="156" y="413.5" textLength="21" lengthAdjust="spacingAndGlyphs" font-size="13">Jan</text>
<text x="192" y="413.5" textLength="20" lengthAdjust="spacingAndGlyphs" font-size="13">Feb</text>
<text x="226" y="413.5" textLength="20" lengthAdjust="spacingAndGlyphs" font-size="13">Mar</text>
<text x="264.5" y="413.5" textLength="18.5" lengthAdjust="spacingAndGlyphs" font-size="13">Apr</text>
<text x="302.5" y="413.5" textLength="21.5" lengthAdjust="spacingAndGlyphs" font-size="13">May</text>
<text x="336" y="413.5" textLength="20" lengthAdjust="spacingAndGlyphs" font-size="13">Jun</text>
<text x="375" y="413.5" textLength="16" lengthAdjust="spacingAndGlyphs" font-size="13">Jul</text>
<text x="414" y="413.5" textLength="21" lengthAdjust="spacingAndGlyphs" font-size="13">Aug</text>
<text x="451" y="413.5" textLength="20" lengthAdjust="spacingAndGlyphs" font-size="13">Sep</text>
<text x="5" y="425.5" textLength="728" lengthAdjust="spacingAndGlyphs" font-size="13">For Last 65 days stock changed -24.8% or -6.1 points:  Public accounts for  1.44 points.;  Professionals account for -7.54 points.</text>
<text x="5" y="438.5" textLength="723" lengthAdjust="spacingAndGlyphs" font-size="13">For Last year stock changed -15.5% or -2.93 points:  Public accounts for  7.58 points.;  Professionals account for -10.51 points.</text>
<text x="5" y="450.5" textLength="388" lengthAdjust="spacingAndGlyphs" font-size="13">(Blue arrows)#2 Indicator=21-day RSQ ma turns. Its gain= 59.8% Sell</text>
<text x="5" y="463.5" textLength="368" lengthAdjust="spacingAndGlyphs" font-size="13">(Green arrows)#3 Indicator=50-day ma turns. Its gain= 48.7% Sell</text>
<text x="2" y="475.5" textLength="545" lengthAdjust="spacingAndGlyphs" font-size="13">(Magenta arrows)#4 Indicator=5-d St-KLine goes back above 20/below 80.. Its gain= 45.6% Sell</text>
<text x="292" y="73" textLength="13" lengthAdjust="spacingAndGlyphs" font-size="14">S5</text>
<text x="302.5" y="73" textLength="23" lengthAdjust="spacingAndGlyphs" font-size="14">S14</text>
<text x="315" y="94.5" textLength="13.5" lengthAdjust="spacingAndGlyphs" font-size="14">S5</text>
<text x="328.5" y="94.5" textLength="24.5" lengthAdjust="spacingAndGlyphs" font-size="14">S14</text>
<text x="352" y="124.5" textLength="14" lengthAdjust="spacingAndGlyphs" font-size="14">S5</text>
<text x="355" y="138" textLength="24" lengthAdjust="spacingAndGlyphs" font-size="14">S10</text>
<text x="384" y="134" textLength="16" lengthAdjust="spacingAndGlyphs" font-size="14">S3</text>
<text x="213.5" y="178" textLength="13" lengthAdjust="spacingAndGlyphs" font-size="14">B5</text>
<text x="224" y="178" textLength="24" lengthAdjust="spacingAndGlyphs" font-size="14">B14</text>
<text x="184" y="213.5" textLength="11" lengthAdjust="spacingAndGlyphs" font-size="14">B5</text>
<text x="188" y="213.5" textLength="20" lengthAdjust="spacingAndGlyphs" font-size="14">B17</text>
</g>
</svg>
</body></html>
